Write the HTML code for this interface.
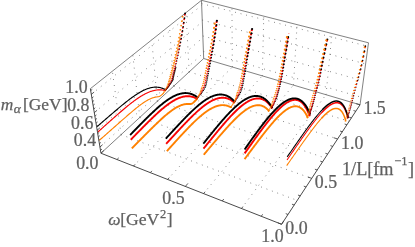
<!DOCTYPE html>
<html><head><meta charset="utf-8"><style>
html,body{margin:0;padding:0;background:#fff;}
svg{display:block;font-family:"Liberation Serif",serif;fill:#606060;will-change:transform;}
text{stroke:#606060;stroke-width:0.25px;}
</style></head><body>
<svg width="415" height="247" viewBox="0 0 415 247">
<rect width="415" height="247" fill="#fff"/>
<line x1="133.43" y1="166.00" x2="232.37" y2="67.01" stroke="#606060" stroke-width="0.85" stroke-dasharray="0.85 4.9" fill="none"/>
<line x1="167.59" y1="179.44" x2="262.27" y2="75.86" stroke="#606060" stroke-width="0.85" stroke-dasharray="0.85 4.9" fill="none"/>
<line x1="203.56" y1="193.59" x2="293.45" y2="85.09" stroke="#606060" stroke-width="0.85" stroke-dasharray="0.85 4.9" fill="none"/>
<line x1="241.50" y1="208.51" x2="326.02" y2="94.72" stroke="#606060" stroke-width="0.85" stroke-dasharray="0.85 4.9" fill="none"/>
<line x1="121.06" y1="134.69" x2="297.24" y2="200.41" stroke="#606060" stroke-width="0.85" stroke-dasharray="0.85 4.9" fill="none"/>
<line x1="139.82" y1="117.40" x2="311.71" y2="178.38" stroke="#606060" stroke-width="0.85" stroke-dasharray="0.85 4.9" fill="none"/>
<line x1="157.34" y1="101.24" x2="325.13" y2="157.96" stroke="#606060" stroke-width="0.85" stroke-dasharray="0.85 4.9" fill="none"/>
<line x1="173.77" y1="86.10" x2="337.59" y2="138.98" stroke="#606060" stroke-width="0.85" stroke-dasharray="0.85 4.9" fill="none"/>
<line x1="189.18" y1="71.89" x2="349.20" y2="121.30" stroke="#606060" stroke-width="0.85" stroke-dasharray="0.85 4.9" fill="none"/>
<line x1="232.37" y1="67.01" x2="231.95" y2="8.05" stroke="#606060" stroke-width="0.85" stroke-dasharray="0.85 4.9" fill="none"/>
<line x1="262.27" y1="75.86" x2="263.79" y2="16.15" stroke="#606060" stroke-width="0.85" stroke-dasharray="0.85 4.9" fill="none"/>
<line x1="293.45" y1="85.09" x2="297.08" y2="24.62" stroke="#606060" stroke-width="0.85" stroke-dasharray="0.85 4.9" fill="none"/>
<line x1="326.02" y1="94.72" x2="331.95" y2="33.49" stroke="#606060" stroke-width="0.85" stroke-dasharray="0.85 4.9" fill="none"/>
<line x1="203.41" y1="51.34" x2="361.08" y2="97.20" stroke="#606060" stroke-width="0.85" stroke-dasharray="0.85 4.9" fill="none"/>
<line x1="202.83" y1="35.95" x2="363.30" y2="80.87" stroke="#606060" stroke-width="0.85" stroke-dasharray="0.85 4.9" fill="none"/>
<line x1="202.23" y1="20.06" x2="365.61" y2="63.93" stroke="#606060" stroke-width="0.85" stroke-dasharray="0.85 4.9" fill="none"/>
<line x1="201.61" y1="3.63" x2="368.01" y2="46.36" stroke="#606060" stroke-width="0.85" stroke-dasharray="0.85 4.9" fill="none"/>
<line x1="121.06" y1="134.69" x2="112.35" y2="71.20" stroke="#606060" stroke-width="0.85" stroke-dasharray="0.85 5.3" fill="none"/>
<line x1="139.82" y1="117.40" x2="132.76" y2="54.97" stroke="#606060" stroke-width="0.85" stroke-dasharray="0.85 5.3" fill="none"/>
<line x1="157.34" y1="101.24" x2="151.74" y2="39.87" stroke="#606060" stroke-width="0.85" stroke-dasharray="0.85 5.3" fill="none"/>
<line x1="173.77" y1="86.10" x2="169.44" y2="25.79" stroke="#606060" stroke-width="0.85" stroke-dasharray="0.85 5.3" fill="none"/>
<line x1="189.18" y1="71.89" x2="185.98" y2="12.63" stroke="#606060" stroke-width="0.85" stroke-dasharray="0.85 5.3" fill="none"/>
<line x1="99.95" y1="147.07" x2="203.47" y2="52.89" stroke="#606060" stroke-width="0.85" stroke-dasharray="0.85 5.3" fill="none"/>
<line x1="97.18" y1="130.20" x2="202.89" y2="37.56" stroke="#606060" stroke-width="0.85" stroke-dasharray="0.85 5.3" fill="none"/>
<line x1="94.29" y1="112.64" x2="202.29" y2="21.72" stroke="#606060" stroke-width="0.85" stroke-dasharray="0.85 5.3" fill="none"/>
<line x1="91.29" y1="94.36" x2="201.68" y2="5.34" stroke="#606060" stroke-width="0.85" stroke-dasharray="0.85 5.3" fill="none"/>
<line x1="100.96" y1="153.23" x2="203.68" y2="58.52" stroke="#585858" stroke-width="0.75"/>
<line x1="203.68" y1="58.52" x2="360.04" y2="104.79" stroke="#585858" stroke-width="0.75"/>
<line x1="203.68" y1="58.52" x2="201.49" y2="0.30" stroke="#585858" stroke-width="0.75"/>
<line x1="360.04" y1="104.79" x2="368.49" y2="42.79" stroke="#585858" stroke-width="0.75"/>
<line x1="90.36" y1="88.69" x2="201.49" y2="0.30" stroke="#585858" stroke-width="0.75"/>
<line x1="201.49" y1="0.30" x2="368.49" y2="42.79" stroke="#585858" stroke-width="0.75"/>
<line x1="100.96" y1="153.23" x2="90.36" y2="88.69" stroke="#4a4a4a" stroke-width="1.0"/>
<line x1="100.96" y1="153.23" x2="281.57" y2="224.27" stroke="#4a4a4a" stroke-width="1.0"/>
<line x1="281.57" y1="224.27" x2="360.04" y2="104.79" stroke="#4a4a4a" stroke-width="1.0"/>
<line x1="100.96" y1="153.23" x2="103.90" y2="150.52" stroke="#3c3c3c" stroke-width="0.85"/>
<line x1="116.99" y1="159.54" x2="118.72" y2="157.88" stroke="#3c3c3c" stroke-width="0.85"/>
<line x1="133.43" y1="166.00" x2="135.13" y2="164.31" stroke="#3c3c3c" stroke-width="0.85"/>
<line x1="150.29" y1="172.63" x2="151.95" y2="170.90" stroke="#3c3c3c" stroke-width="0.85"/>
<line x1="167.59" y1="179.44" x2="169.21" y2="177.67" stroke="#3c3c3c" stroke-width="0.85"/>
<line x1="185.34" y1="186.42" x2="187.96" y2="183.40" stroke="#3c3c3c" stroke-width="0.85"/>
<line x1="203.56" y1="193.59" x2="205.09" y2="191.74" stroke="#3c3c3c" stroke-width="0.85"/>
<line x1="222.27" y1="200.95" x2="223.76" y2="199.06" stroke="#3c3c3c" stroke-width="0.85"/>
<line x1="241.50" y1="208.51" x2="242.93" y2="206.58" stroke="#3c3c3c" stroke-width="0.85"/>
<line x1="261.26" y1="216.28" x2="262.63" y2="214.31" stroke="#3c3c3c" stroke-width="0.85"/>
<line x1="281.57" y1="224.27" x2="283.77" y2="220.92" stroke="#3c3c3c" stroke-width="0.85"/>
<line x1="281.57" y1="224.27" x2="277.85" y2="222.80" stroke="#3c3c3c" stroke-width="0.85"/>
<line x1="287.99" y1="214.49" x2="285.75" y2="213.63" stroke="#3c3c3c" stroke-width="0.85"/>
<line x1="294.21" y1="205.03" x2="291.96" y2="204.18" stroke="#3c3c3c" stroke-width="0.85"/>
<line x1="300.23" y1="195.87" x2="297.97" y2="195.04" stroke="#3c3c3c" stroke-width="0.85"/>
<line x1="306.06" y1="186.99" x2="303.80" y2="186.17" stroke="#3c3c3c" stroke-width="0.85"/>
<line x1="311.71" y1="178.38" x2="307.94" y2="177.04" stroke="#3c3c3c" stroke-width="0.85"/>
<line x1="317.20" y1="170.02" x2="314.93" y2="169.23" stroke="#3c3c3c" stroke-width="0.85"/>
<line x1="322.52" y1="161.92" x2="320.25" y2="161.14" stroke="#3c3c3c" stroke-width="0.85"/>
<line x1="327.69" y1="154.05" x2="325.42" y2="153.29" stroke="#3c3c3c" stroke-width="0.85"/>
<line x1="332.71" y1="146.41" x2="330.43" y2="145.66" stroke="#3c3c3c" stroke-width="0.85"/>
<line x1="337.59" y1="138.98" x2="333.78" y2="137.75" stroke="#3c3c3c" stroke-width="0.85"/>
<line x1="342.33" y1="131.76" x2="340.04" y2="131.04" stroke="#3c3c3c" stroke-width="0.85"/>
<line x1="346.94" y1="124.74" x2="344.65" y2="124.03" stroke="#3c3c3c" stroke-width="0.85"/>
<line x1="351.43" y1="117.91" x2="349.13" y2="117.21" stroke="#3c3c3c" stroke-width="0.85"/>
<line x1="355.79" y1="111.27" x2="353.50" y2="110.57" stroke="#3c3c3c" stroke-width="0.85"/>
<line x1="360.04" y1="104.79" x2="356.21" y2="103.66" stroke="#3c3c3c" stroke-width="0.85"/>
<line x1="100.49" y1="150.37" x2="101.96" y2="149.02" stroke="#3c3c3c" stroke-width="0.85"/>
<line x1="99.95" y1="147.07" x2="102.61" y2="144.65" stroke="#3c3c3c" stroke-width="0.85"/>
<line x1="99.40" y1="143.75" x2="100.89" y2="142.41" stroke="#3c3c3c" stroke-width="0.85"/>
<line x1="98.85" y1="140.40" x2="100.34" y2="139.07" stroke="#3c3c3c" stroke-width="0.85"/>
<line x1="98.30" y1="137.03" x2="99.79" y2="135.70" stroke="#3c3c3c" stroke-width="0.85"/>
<line x1="97.74" y1="133.63" x2="99.24" y2="132.31" stroke="#3c3c3c" stroke-width="0.85"/>
<line x1="97.18" y1="130.20" x2="99.88" y2="127.83" stroke="#3c3c3c" stroke-width="0.85"/>
<line x1="96.61" y1="126.75" x2="98.12" y2="125.43" stroke="#3c3c3c" stroke-width="0.85"/>
<line x1="96.04" y1="123.26" x2="97.55" y2="121.96" stroke="#3c3c3c" stroke-width="0.85"/>
<line x1="95.46" y1="119.75" x2="96.98" y2="118.45" stroke="#3c3c3c" stroke-width="0.85"/>
<line x1="94.88" y1="116.21" x2="96.41" y2="114.92" stroke="#3c3c3c" stroke-width="0.85"/>
<line x1="94.29" y1="112.64" x2="97.05" y2="110.32" stroke="#3c3c3c" stroke-width="0.85"/>
<line x1="93.70" y1="109.05" x2="95.24" y2="107.76" stroke="#3c3c3c" stroke-width="0.85"/>
<line x1="93.11" y1="105.42" x2="94.65" y2="104.14" stroke="#3c3c3c" stroke-width="0.85"/>
<line x1="92.51" y1="101.76" x2="94.05" y2="100.49" stroke="#3c3c3c" stroke-width="0.85"/>
<line x1="91.90" y1="98.07" x2="93.45" y2="96.81" stroke="#3c3c3c" stroke-width="0.85"/>
<line x1="91.29" y1="94.36" x2="94.10" y2="92.10" stroke="#3c3c3c" stroke-width="0.85"/>
<line x1="90.68" y1="90.61" x2="92.24" y2="89.36" stroke="#3c3c3c" stroke-width="0.85"/>
<g transform="translate(0.7,0.3)">
<path d="M98.78,139.94 L99.41,139.38 L100.05,138.81 L100.69,138.25 L101.32,137.69 L101.95,137.13 L102.59,136.57 L103.22,136.01 L103.85,135.45 L104.47,134.90 L105.10,134.35 L105.72,133.79 L106.35,133.24 L106.97,132.69 L107.59,132.14 L108.21,131.59 L108.83,131.05 L109.44,130.50 L110.06,129.96 L110.67,129.41 L111.28,128.87 L111.90,128.33 L112.51,127.79 L113.11,127.25 L113.72,126.72 L114.33,126.18 L114.93,125.65 L115.54,125.11 L116.14,124.58 L116.74,124.05 L117.34,123.52 L117.94,122.99 L118.53,122.47 L119.13,121.94 L119.72,121.42 L120.32,120.89 L120.91,120.37 L121.50,119.85 L122.09,119.34 L122.68,118.82 L123.27,118.30 L123.85,117.79 L124.44,117.28 L125.02,116.77 L125.60,116.26 L126.19,115.76 L126.77,115.25 L127.35,114.75 L127.92,114.25 L128.50,113.76 L129.08,113.26 L129.65,112.77 L130.23,112.28 L130.80,111.79 L131.37,111.31 L131.94,110.83 L132.51,110.35 L133.08,109.88 L133.65,109.40 L134.22,108.94 L134.78,108.47 L135.35,108.01 L135.91,107.56 L136.48,107.11 L137.04,106.66 L137.60,106.22 L138.16,105.79 L138.72,105.36 L139.28,104.93 L139.84,104.51 L140.40,104.10 L140.96,103.69 L141.52,103.30 L142.08,102.90 L142.63,102.52 L143.19,102.14 L143.74,101.78 L144.30,101.42 L144.85,101.07 L145.41,100.73 L145.96,100.40 L146.51,100.08 L147.07,99.77 L147.62,99.47 L148.17,99.18 L148.73,98.91 L149.28,98.65 L149.83,98.40 L150.38,98.17 L150.94,97.95 L151.49,97.74 L152.04,97.55 L152.59,97.38 L153.15,97.22 L153.70,97.08 L154.25,96.96 L154.80,96.85 L155.35,96.75 L155.91,96.66 L156.46,96.58 L157.00,96.50 L157.55,96.40 L158.09,96.27 L158.63,96.10 L159.15,95.86 L159.68,95.55 L160.19,95.20 L160.70,94.80 L161.21,94.37 L161.71,93.93 L162.22,93.48 L162.72,93.03 L163.05,92.72" fill="none" stroke="#ff8000" stroke-width="1.15" stroke-linejoin="round" stroke-linecap="butt"/>
<path d="M163.03,92.72 L164.17,91.24 L165.31,89.75 L166.10,88.26 L166.75,86.78 L167.34,85.29 L167.91,83.81 L168.45,82.32 L168.84,80.84 L169.29,79.35 L169.73,77.86 L170.09,76.38 L170.44,74.89 L170.82,73.41 L171.22,71.92 L171.63,70.44 L172.03,68.95 L172.42,67.46 L172.81,65.98 L173.19,64.49 L173.57,63.01 L173.94,61.52 L174.31,60.04 L174.67,58.55 L175.03,57.07 L175.37,55.58 L175.71,54.09 L176.04,52.61 L176.38,51.12 L176.70,49.64 L177.03,48.15 L177.35,46.67 L177.66,45.18 L177.97,43.69 L178.28,42.21 L178.57,40.72 L178.87,39.24 L179.15,37.75 L179.44,36.27 L179.72,34.78" fill="none" stroke="#ff8000" stroke-width="0.9"/>
<path d="M131.14,148.05 L131.76,147.42 L132.37,146.80 L132.99,146.18 L133.60,145.56 L134.22,144.94 L134.83,144.32 L135.44,143.71 L136.04,143.09 L136.65,142.48 L137.26,141.87 L137.86,141.26 L138.46,140.65 L139.06,140.04 L139.66,139.44 L140.26,138.83 L140.86,138.23 L141.46,137.63 L142.05,137.03 L142.65,136.43 L143.24,135.84 L143.83,135.24 L144.42,134.65 L145.01,134.06 L145.60,133.47 L146.18,132.88 L146.77,132.29 L147.35,131.71 L147.93,131.13 L148.52,130.55 L149.10,129.97 L149.68,129.39 L150.25,128.82 L150.83,128.25 L151.41,127.68 L151.98,127.11 L152.56,126.55 L153.13,125.99 L153.70,125.43 L154.27,124.88 L154.84,124.33 L155.41,123.78 L155.97,123.23 L156.54,122.69 L157.11,122.15 L157.67,121.61 L158.23,121.08 L158.80,120.56 L159.36,120.03 L159.92,119.51 L160.48,119.00 L161.04,118.49 L161.59,117.98 L162.15,117.48 L162.71,116.99 L163.26,116.50 L163.81,116.01 L164.37,115.53 L164.92,115.06 L165.47,114.59 L166.02,114.13 L166.57,113.67 L167.12,113.22 L167.67,112.78 L168.22,112.35 L168.76,111.92 L169.31,111.50 L169.85,111.09 L170.40,110.68 L170.94,110.28 L171.49,109.90 L172.03,109.52 L172.57,109.15 L173.11,108.79 L173.65,108.44 L174.19,108.09 L174.73,107.76 L175.27,107.44 L175.81,107.13 L176.34,106.83 L176.88,106.55 L177.41,106.27 L177.95,106.01 L178.48,105.75 L179.02,105.52 L179.55,105.29 L180.08,105.08 L180.62,104.88 L181.15,104.69 L181.68,104.52 L182.21,104.36 L182.74,104.22 L183.27,104.10 L183.80,103.99 L184.32,103.89 L184.85,103.81 L185.38,103.75 L185.91,103.71 L186.43,103.68 L186.96,103.67 L187.48,103.67 L188.00,103.68 L188.53,103.70 L189.05,103.71 L189.56,103.71 L190.08,103.67 L190.59,103.57 L191.09,103.37 L191.59,103.09 L192.08,102.73 L192.56,102.32 L193.05,101.88 L193.53,101.42 L194.01,100.95 L194.49,100.48 L194.97,100.01 L195.45,99.53 L195.93,99.06 L196.40,98.59 L196.88,98.12 L197.04,97.96" fill="none" stroke="#ff8000" stroke-width="1.90" stroke-linejoin="round" stroke-linecap="butt"/>
<path d="M166.14,150.88 L166.73,150.22 L167.32,149.56 L167.91,148.91 L168.50,148.25 L169.09,147.60 L169.68,146.95 L170.26,146.30 L170.85,145.65 L171.43,145.01 L172.01,144.36 L172.59,143.72 L173.17,143.08 L173.75,142.44 L174.33,141.80 L174.91,141.17 L175.48,140.54 L176.05,139.91 L176.63,139.28 L177.20,138.65 L177.77,138.03 L178.33,137.41 L178.90,136.79 L179.47,136.17 L180.03,135.56 L180.60,134.95 L181.16,134.34 L181.72,133.73 L182.28,133.13 L182.84,132.53 L183.40,131.94 L183.96,131.34 L184.51,130.75 L185.07,130.17 L185.62,129.59 L186.17,129.01 L186.72,128.43 L187.28,127.86 L187.82,127.29 L188.37,126.73 L188.92,126.17 L189.47,125.61 L190.01,125.06 L190.56,124.51 L191.10,123.97 L191.64,123.43 L192.18,122.90 L192.72,122.37 L193.26,121.85 L193.80,121.33 L194.33,120.82 L194.87,120.31 L195.41,119.81 L195.94,119.31 L196.47,118.82 L197.00,118.34 L197.53,117.86 L198.06,117.39 L198.59,116.92 L199.12,116.46 L199.65,116.01 L200.17,115.56 L200.70,115.12 L201.22,114.69 L201.74,114.26 L202.27,113.84 L202.79,113.43 L203.31,113.03 L203.82,112.63 L204.34,112.25 L204.86,111.87 L205.37,111.49 L205.89,111.13 L206.40,110.78 L206.91,110.43 L207.43,110.09 L207.94,109.76 L208.45,109.44 L208.95,109.13 L209.46,108.83 L209.97,108.54 L210.47,108.26 L210.98,107.99 L211.48,107.72 L211.98,107.47 L212.48,107.23 L212.98,107.00 L213.48,106.78 L213.98,106.57 L214.48,106.37 L214.97,106.19 L215.47,106.01 L215.96,105.85 L216.45,105.69 L216.94,105.55 L217.43,105.42 L217.92,105.31 L218.41,105.20 L218.89,105.11 L219.38,105.03 L219.86,104.97 L220.35,104.91 L220.83,104.87 L221.31,104.85 L221.79,104.83 L222.27,104.83 L222.74,104.85 L223.22,104.88 L223.69,104.92 L224.16,104.98 L224.64,105.05 L225.11,105.13 L225.57,105.23 L226.04,105.35 L226.51,105.48 L226.97,105.62 L227.44,105.78 L227.90,105.96 L228.36,106.14 L228.82,106.33 L229.27,106.52 L229.73,106.69 L230.18,106.80 L230.63,106.83 L231.08,106.71 L231.08,106.71" fill="none" stroke="#ff8000" stroke-width="1.90" stroke-linejoin="round" stroke-linecap="butt"/>
<path d="M203.05,154.44 L203.62,153.76 L204.20,153.08 L204.77,152.40 L205.34,151.72 L205.90,151.05 L206.47,150.38 L207.03,149.71 L207.60,149.04 L208.16,148.37 L208.72,147.70 L209.28,147.04 L209.84,146.38 L210.40,145.72 L210.95,145.06 L211.51,144.40 L212.06,143.75 L212.62,143.10 L213.17,142.44 L213.72,141.80 L214.27,141.15 L214.81,140.51 L215.36,139.86 L215.90,139.22 L216.45,138.59 L216.99,137.95 L217.53,137.32 L218.07,136.69 L218.61,136.06 L219.15,135.44 L219.68,134.82 L220.22,134.20 L220.75,133.59 L221.29,132.97 L221.82,132.36 L222.35,131.76 L222.88,131.16 L223.41,130.56 L223.93,129.96 L224.46,129.37 L224.98,128.78 L225.51,128.20 L226.03,127.61 L226.55,127.04 L227.07,126.47 L227.59,125.90 L228.11,125.33 L228.62,124.77 L229.14,124.22 L229.65,123.67 L230.16,123.12 L230.68,122.58 L231.19,122.05 L231.70,121.52 L232.20,120.99 L232.71,120.47 L233.22,119.96 L233.72,119.45 L234.22,118.95 L234.73,118.45 L235.23,117.96 L235.73,117.48 L236.23,117.00 L236.72,116.53 L237.22,116.07 L237.71,115.61 L238.21,115.16 L238.70,114.72 L239.19,114.28 L239.68,113.85 L240.17,113.43 L240.66,113.02 L241.15,112.62 L241.63,112.22 L242.11,111.83 L242.60,111.45 L243.08,111.08 L243.56,110.72 L244.04,110.37 L244.51,110.03 L244.99,109.69 L245.46,109.37 L245.94,109.05 L246.41,108.75 L246.88,108.45 L247.35,108.17 L247.82,107.89 L248.28,107.63 L248.75,107.38 L249.21,107.14 L249.67,106.91 L250.14,106.69 L250.59,106.48 L251.05,106.28 L251.51,106.10 L251.96,105.93 L252.42,105.77 L252.87,105.62 L253.32,105.49 L253.77,105.37 L254.21,105.26 L254.66,105.16 L255.10,105.08 L255.55,105.02 L255.99,104.96 L256.43,104.92 L256.86,104.90 L257.30,104.89 L257.73,104.89 L258.16,104.91 L258.59,104.95 L259.02,105.00 L259.45,105.06 L259.87,105.14 L260.30,105.24 L260.72,105.35 L261.14,105.48 L261.55,105.62 L261.97,105.79 L262.38,105.97 L262.80,106.16 L263.20,106.37 L263.61,106.60 L264.02,106.85 L264.42,107.12 L264.82,107.40 L265.22,107.70 L265.62,108.02 L266.01,108.36 L266.41,108.72 L266.80,109.10 L267.19,109.49 L267.57,109.91 L267.96,110.34 L268.34,110.79 L268.59,111.11" fill="none" stroke="#ff8000" stroke-width="1.90" stroke-linejoin="round" stroke-linecap="butt"/>
<path d="M243.86,158.86 L244.40,158.13 L244.94,157.41 L245.48,156.69 L246.01,155.97 L246.55,155.25 L247.08,154.53 L247.61,153.81 L248.14,153.10 L248.67,152.39 L249.20,151.68 L249.73,150.97 L250.25,150.27 L250.78,149.56 L251.30,148.86 L251.82,148.16 L252.34,147.47 L252.86,146.77 L253.38,146.08 L253.90,145.39 L254.42,144.70 L254.93,144.02 L255.44,143.34 L255.96,142.66 L256.47,141.98 L256.98,141.30 L257.49,140.63 L257.99,139.96 L258.50,139.30 L259.00,138.64 L259.51,137.98 L260.01,137.32 L260.51,136.67 L261.01,136.02 L261.51,135.37 L262.01,134.73 L262.51,134.09 L263.00,133.45 L263.50,132.82 L263.99,132.19 L264.48,131.57 L264.97,130.95 L265.46,130.34 L265.95,129.73 L266.43,129.12 L266.92,128.52 L267.40,127.92 L267.89,127.33 L268.37,126.74 L268.85,126.16 L269.33,125.58 L269.81,125.01 L270.28,124.45 L270.76,123.88 L271.23,123.33 L271.71,122.78 L272.18,122.24 L272.65,121.70 L273.12,121.17 L273.58,120.64 L274.05,120.13 L274.51,119.61 L274.98,119.11 L275.44,118.61 L275.90,118.12 L276.36,117.64 L276.82,117.16 L277.27,116.69 L277.73,116.23 L278.18,115.78 L278.63,115.33 L279.08,114.89 L279.53,114.46 L279.98,114.04 L280.43,113.63 L280.87,113.23 L281.31,112.83 L281.76,112.45 L282.19,112.07 L282.63,111.71 L283.07,111.35 L283.50,111.00 L283.94,110.67 L284.37,110.34 L284.80,110.02 L285.23,109.72 L285.65,109.42 L286.08,109.14 L286.50,108.86 L286.92,108.60 L287.34,108.35 L287.76,108.11 L288.18,107.88 L288.59,107.66 L289.00,107.46 L289.41,107.27 L289.82,107.09 L290.23,106.92 L290.63,106.77 L291.03,106.63 L291.43,106.50 L291.83,106.38 L292.23,106.28 L292.62,106.20 L293.02,106.12 L293.41,106.06 L293.79,106.02 L294.18,105.99 L294.56,105.97 L294.95,105.97 L295.32,105.99 L295.70,106.02 L296.08,106.06 L296.45,106.12 L296.82,106.20 L297.19,106.29 L297.55,106.40 L297.92,106.52 L298.28,106.66 L298.63,106.82 L298.99,107.00 L299.34,107.19 L299.69,107.40 L300.04,107.62 L300.39,107.87 L300.73,108.13 L301.07,108.41 L301.41,108.70 L301.74,109.02 L302.07,109.35 L302.40,109.71 L302.73,110.08 L303.05,110.47 L303.37,110.88 L303.69,111.30 L304.01,111.75 L304.32,112.22 L304.63,112.71 L304.94,113.21 L305.24,113.74 L305.54,114.28 L305.84,114.85 L306.13,115.44 L306.42,116.04 L306.71,116.67 L306.99,117.32 L307.18,117.76" fill="none" stroke="#ff8000" stroke-width="1.90" stroke-linejoin="round" stroke-linecap="butt"/>
<path d="M285.99,165.31 L286.51,164.57 L287.02,163.84 L287.53,163.11 L288.04,162.38 L288.55,161.66 L289.05,160.93 L289.56,160.21 L290.06,159.49 L290.57,158.77 L291.07,158.06 L291.57,157.34 L292.07,156.63 L292.57,155.92 L293.06,155.21 L293.56,154.50 L294.05,153.80 L294.55,153.10 L295.04,152.40 L295.53,151.70 L296.02,151.00 L296.50,150.31 L296.99,149.62 L297.48,148.93 L297.96,148.24 L298.44,147.55 L298.93,146.87 L299.41,146.19 L299.89,145.51 L300.36,144.84 L300.84,144.17 L301.32,143.50 L301.79,142.83 L302.26,142.16 L302.73,141.50 L303.20,140.84 L303.67,140.19 L304.14,139.53 L304.61,138.89 L305.07,138.24 L305.54,137.60 L306.00,136.96 L306.46,136.32 L306.92,135.69 L307.38,135.06 L307.84,134.43 L308.29,133.81 L308.75,133.19 L309.20,132.58 L309.65,131.97 L310.10,131.37 L310.55,130.77 L311.00,130.17 L311.45,129.58 L311.89,128.99 L312.34,128.41 L312.78,127.83 L313.22,127.26 L313.66,126.69 L314.10,126.13 L314.53,125.57 L314.97,125.02 L315.40,124.48 L315.83,123.94 L316.26,123.40 L316.69,122.87 L317.12,122.35 L317.55,121.84 L317.97,121.33 L318.39,120.83 L318.81,120.33 L319.23,119.85 L319.65,119.37 L320.07,118.89 L320.48,118.43 L320.90,117.97 L321.31,117.52" fill="none" stroke="#ff8000" stroke-width="1.05" stroke-linejoin="round"/>
<path d="M320.90,117.97 L321.31,117.52 L321.72,117.08 L322.12,116.64 L322.53,116.22 L322.93,115.80 L323.33,115.39 L323.73,114.99 L324.13,114.60 L324.53,114.22 L324.92,113.85 L325.32,113.49 L325.71,113.14 L326.10,112.80 L326.48,112.47 L326.87,112.14 L327.25,111.83 L327.63,111.53 L328.01,111.25 L328.38,110.97 L328.76,110.70 L329.13,110.45 L329.50,110.21 L329.86,109.98 L330.23,109.76 L330.59,109.55 L330.95,109.36 L331.31,109.18 L331.66,109.01 L332.02,108.86 L332.37,108.72 L332.71,108.60 L333.06,108.49 L333.40,108.39 L333.74,108.31 L334.08,108.24 L334.41,108.18 L334.74,108.15 L335.07,108.12 L335.40,108.12 L335.72,108.13 L336.04,108.15 L336.36,108.19 L336.67,108.25 L336.98,108.32 L337.29,108.42 L337.60,108.52 L337.90,108.65 L338.20,108.79 L338.49,108.96 L338.78,109.14 L339.07,109.33 L339.36,109.55 L339.64,109.79 L339.92,110.04 L340.20,110.31 L340.47,110.61 L340.74,110.92 L341.00,111.25 L341.26,111.60 L341.52,111.98 L341.78,112.37 L342.03,112.78 L342.27,113.22 L342.52,113.68 L342.76,114.15 L342.99,114.65 L343.22,115.17 L343.45,115.71 L343.68,116.28 L343.89,116.86 L344.11,117.47 L344.32,118.10 L344.53,118.76 L344.73,119.44 L344.93,120.14 L345.13,120.86 L345.19,121.11" fill="none" stroke="#ff8000" stroke-width="1.5" stroke-linejoin="round"/>
<path d="M97.39,131.51 L98.04,130.94 L98.68,130.36 L99.32,129.79 L99.96,129.22 L100.60,128.65 L101.24,128.08 L101.87,127.51 L102.51,126.94 L103.14,126.37 L103.77,125.81 L104.40,125.25 L105.03,124.68 L105.66,124.12 L106.28,123.57 L106.91,123.01 L107.53,122.45 L108.15,121.90 L108.77,121.34 L109.39,120.79 L110.01,120.24 L110.63,119.69 L111.24,119.15 L111.86,118.60 L112.47,118.06 L113.08,117.52 L113.69,116.98 L114.30,116.44 L114.91,115.91 L115.52,115.37 L116.13,114.84 L116.73,114.31 L117.33,113.79 L117.94,113.26 L118.54,112.74 L119.14,112.22 L119.74,111.70 L120.34,111.19 L120.93,110.68 L121.53,110.17 L122.12,109.66 L122.72,109.16 L123.31,108.66 L123.90,108.17 L124.49,107.67 L125.08,107.18 L125.67,106.70 L126.26,106.22 L126.85,105.74 L127.43,105.26 L128.02,104.79 L128.60,104.32 L129.19,103.86 L129.77,103.40 L130.35,102.95 L130.93,102.50 L131.51,102.06 L132.09,101.62 L132.67,101.18 L133.25,100.76 L133.82,100.33 L134.40,99.91 L134.98,99.50 L135.55,99.09 L136.12,98.69 L136.70,98.30 L137.27,97.91 L137.84,97.53 L138.41,97.15 L138.98,96.78 L139.55,96.42 L140.12,96.06 L140.69,95.72 L141.26,95.38 L141.82,95.04 L142.39,94.72 L142.96,94.40 L143.52,94.09 L144.09,93.79 L144.65,93.50 L145.21,93.21 L145.78,92.94 L146.34,92.67 L146.90,92.42 L147.46,92.17 L148.02,91.93 L148.58,91.71 L149.14,91.49 L149.70,91.28 L150.26,91.08 L150.82,90.90 L151.38,90.72 L151.94,90.56 L152.49,90.41 L153.05,90.27 L153.61,90.14 L154.16,90.02 L154.72,89.91 L155.27,89.82 L155.83,89.74 L156.38,89.67 L156.93,89.62 L157.49,89.58 L158.04,89.55 L158.59,89.54 L159.14,89.54 L159.70,89.55 L160.25,89.58 L160.80,89.62 L161.35,89.68 L161.90,89.75 L162.45,89.84 L163.00,89.95 L163.55,90.07 L164.09,90.20 L164.64,90.35 L164.82,90.41" fill="none" stroke="#f80404" stroke-width="1.15" stroke-linejoin="round" stroke-linecap="butt"/>
<path d="M164.80,90.41 L165.27,89.80 L165.74,89.19 L166.19,88.58 L166.64,87.98 L167.08,87.37 L167.50,86.76 L167.91,86.15 L168.31,85.54 L168.69,84.94 L169.08,84.33 L169.47,83.72 L169.86,83.11 L170.24,82.51 L170.58,81.90 L170.90,81.29 L171.17,80.68 L171.41,80.07 L171.62,79.47 L171.81,78.86 L171.98,78.25 L172.13,77.64 L172.27,77.03 L172.41,76.43 L172.54,75.82 L172.68,75.21 L172.81,74.60 L172.96,73.99 L173.12,73.39 L173.27,72.78 L173.43,72.17 L173.59,71.56 L173.74,70.96 L173.90,70.35 L174.05,69.74 L174.21,69.13 L174.36,68.52 L174.52,67.92 L174.67,67.31 L174.82,66.70" fill="none" stroke="#f80404" stroke-width="0.9"/>
<path d="M130.04,139.41 L130.66,138.78 L131.29,138.14 L131.91,137.51 L132.53,136.88 L133.14,136.25 L133.76,135.62 L134.37,134.99 L134.99,134.36 L135.60,133.74 L136.21,133.11 L136.82,132.49 L137.43,131.87 L138.04,131.25 L138.64,130.64 L139.25,130.02 L139.85,129.41 L140.45,128.80 L141.05,128.19 L141.65,127.58 L142.25,126.98 L142.85,126.37 L143.44,125.77 L144.04,125.18 L144.63,124.58 L145.22,123.99 L145.82,123.40 L146.41,122.81 L147.00,122.22 L147.58,121.64 L148.17,121.06 L148.76,120.48 L149.34,119.91 L149.92,119.34 L150.51,118.77 L151.09,118.21 L151.67,117.65 L152.25,117.09 L152.83,116.54 L153.40,115.99 L153.98,115.45 L154.56,114.91 L155.13,114.37 L155.70,113.84 L156.28,113.31 L156.85,112.79 L157.42,112.27 L157.99,111.76 L158.56,111.25 L159.13,110.75 L159.69,110.25 L160.26,109.76 L160.82,109.27 L161.39,108.79 L161.95,108.31 L162.51,107.85 L163.08,107.38 L163.64,106.93 L164.20,106.48 L164.76,106.03 L165.32,105.60 L165.87,105.17 L166.43,104.75 L166.99,104.33 L167.54,103.93 L168.10,103.53 L168.65,103.13 L169.20,102.75 L169.75,102.38 L170.31,102.01 L170.86,101.65 L171.41,101.30 L171.96,100.96 L172.50,100.63 L173.05,100.31 L173.60,100.00 L174.14,99.70 L174.69,99.40 L175.23,99.12 L175.78,98.85 L176.32,98.59 L176.86,98.34 L177.41,98.10 L177.95,97.87 L178.49,97.65 L179.03,97.45 L179.57,97.25 L180.10,97.07 L180.64,96.90 L181.18,96.75 L181.71,96.60 L182.25,96.47 L182.78,96.35 L183.32,96.25 L183.85,96.15 L184.38,96.08 L184.91,96.01 L185.44,95.96 L185.97,95.93 L186.50,95.90 L187.03,95.90 L187.56,95.91 L188.09,95.93 L188.61,95.97 L189.14,96.02 L189.66,96.09 L190.18,96.18 L190.71,96.28 L191.23,96.40 L191.75,96.54 L192.27,96.69 L192.79,96.86 L193.31,97.05 L193.83,97.25 L194.34,97.47 L194.86,97.71 L195.37,97.97 L195.89,98.25 L196.40,98.54 L196.57,98.65" fill="none" stroke="#f80404" stroke-width="1.90" stroke-linejoin="round" stroke-linecap="butt"/>
<path d="M165.50,143.49 L166.10,142.83 L166.70,142.18 L167.29,141.53 L167.89,140.88 L168.48,140.23 L169.08,139.59 L169.67,138.94 L170.26,138.30 L170.85,137.66 L171.44,137.02 L172.02,136.38 L172.61,135.74 L173.19,135.11 L173.77,134.48 L174.36,133.85 L174.94,133.22 L175.51,132.59 L176.09,131.97 L176.67,131.35 L177.24,130.73 L177.82,130.11 L178.39,129.49 L178.96,128.88 L179.53,128.27 L180.10,127.66 L180.67,127.06 L181.24,126.46 L181.80,125.86 L182.37,125.26 L182.93,124.67 L183.49,124.08 L184.05,123.49 L184.61,122.91 L185.17,122.33 L185.73,121.75 L186.29,121.17 L186.84,120.60 L187.40,120.04 L187.95,119.48 L188.50,118.92 L189.05,118.36 L189.60,117.81 L190.15,117.27 L190.70,116.72 L191.25,116.19 L191.79,115.65 L192.34,115.13 L192.88,114.60 L193.42,114.09 L193.96,113.57 L194.51,113.07 L195.04,112.56 L195.58,112.07 L196.12,111.57 L196.66,111.09 L197.19,110.61 L197.73,110.14 L198.26,109.67 L198.79,109.21 L199.32,108.75 L199.85,108.30 L200.38,107.86 L200.91,107.43 L201.44,107.00 L201.96,106.58 L202.49,106.17 L203.01,105.76 L203.53,105.36 L204.06,104.97 L204.58,104.59 L205.10,104.22 L205.62,103.85 L206.13,103.49 L206.65,103.14 L207.17,102.80 L207.68,102.47 L208.19,102.15 L208.71,101.84 L209.22,101.53 L209.73,101.24 L210.24,100.95 L210.75,100.68 L211.25,100.41 L211.76,100.16 L212.26,99.91 L212.77,99.68 L213.27,99.45 L213.77,99.24 L214.27,99.04 L214.77,98.85 L215.27,98.67 L215.77,98.50 L216.27,98.35 L216.76,98.21 L217.25,98.07 L217.75,97.95 L218.24,97.85 L218.73,97.75 L219.22,97.67 L219.71,97.60 L220.19,97.55 L220.68,97.50 L221.16,97.48 L221.65,97.46 L222.13,97.46 L222.61,97.47 L223.09,97.50 L223.57,97.54 L224.04,97.59 L224.52,97.67 L224.99,97.75 L225.46,97.85 L225.93,97.97 L226.40,98.10 L226.87,98.24 L227.34,98.40 L227.81,98.58 L228.27,98.78 L228.73,98.99 L229.19,99.21 L229.65,99.45 L230.11,99.71 L230.57,99.99 L231.02,100.28 L231.48,100.59 L231.93,100.92 L232.38,101.27 L232.83,101.63 L233.28,102.01 L233.72,102.41 L234.02,102.68" fill="none" stroke="#f80404" stroke-width="1.90" stroke-linejoin="round" stroke-linecap="butt"/>
<path d="M202.79,148.38 L203.37,147.66 L203.94,146.95 L204.52,146.24 L205.09,145.53 L205.66,144.82 L206.23,144.12 L206.80,143.41 L207.36,142.71 L207.93,142.01 L208.49,141.31 L209.06,140.62 L209.62,139.92 L210.18,139.23 L210.74,138.54 L211.30,137.86 L211.86,137.17 L212.41,136.49 L212.97,135.81 L213.52,135.13 L214.07,134.46 L214.62,133.79 L215.17,133.12 L215.72,132.45 L216.27,131.79 L216.82,131.13 L217.36,130.47 L217.90,129.82 L218.45,129.17 L218.99,128.52 L219.53,127.87 L220.07,127.23 L220.61,126.60 L221.14,125.96 L221.68,125.33 L222.21,124.71 L222.75,124.09 L223.28,123.47 L223.81,122.86 L224.34,122.25 L224.87,121.65 L225.40,121.05 L225.92,120.45 L226.45,119.86 L226.97,119.28 L227.49,118.70 L228.02,118.12 L228.54,117.55 L229.06,116.99 L229.57,116.43 L230.09,115.88 L230.61,115.33 L231.12,114.79 L231.64,114.25 L232.15,113.72 L232.66,113.20 L233.17,112.68 L233.68,112.17 L234.19,111.67 L234.69,111.17 L235.20,110.68 L235.70,110.20 L236.20,109.73 L236.71,109.26 L237.21,108.80 L237.70,108.34 L238.20,107.90 L238.70,107.46 L239.19,107.03 L239.69,106.61 L240.18,106.20 L240.67,105.79 L241.16,105.40 L241.65,105.01 L242.14,104.63 L242.63,104.26 L243.11,103.91 L243.60,103.55 L244.08,103.21 L244.56,102.88 L245.04,102.56 L245.52,102.25 L245.99,101.95 L246.47,101.66 L246.94,101.38 L247.42,101.11 L247.89,100.85 L248.36,100.60 L248.83,100.36 L249.29,100.14 L249.76,99.92 L250.22,99.72 L250.69,99.53 L251.15,99.35 L251.61,99.18 L252.07,99.02 L252.52,98.88 L252.98,98.75 L253.43,98.63 L253.88,98.52 L254.33,98.43 L254.78,98.35 L255.23,98.29 L255.67,98.23 L256.12,98.19 L256.56,98.17 L257.00,98.16 L257.44,98.16 L257.87,98.17 L258.31,98.20 L258.74,98.25 L259.17,98.31 L259.60,98.38 L260.03,98.47 L260.46,98.58 L260.88,98.70 L261.30,98.83 L261.72,98.98 L262.14,99.15 L262.56,99.33 L262.97,99.53 L263.39,99.74 L263.80,99.97 L264.21,100.21 L264.61,100.48 L265.02,100.75 L265.42,101.05 L265.82,101.36 L266.22,101.69 L266.61,102.04 L267.01,102.40 L267.40,102.78 L267.79,103.18 L268.18,103.60 L268.56,104.03 L268.95,104.48 L269.33,104.95 L269.71,105.44 L270.08,105.94 L270.46,106.46 L270.83,107.01 L271.20,107.57 L271.56,108.14 L271.56,108.14" fill="none" stroke="#f80404" stroke-width="1.90" stroke-linejoin="round" stroke-linecap="butt"/>
<path d="M243.90,153.09 L244.44,152.32 L244.98,151.56 L245.52,150.80 L246.06,150.04 L246.60,149.29 L247.14,148.53 L247.68,147.78 L248.21,147.03 L248.74,146.28 L249.28,145.53 L249.81,144.79 L250.34,144.05 L250.87,143.31 L251.39,142.57 L251.92,141.84 L252.45,141.11 L252.97,140.38 L253.49,139.65 L254.01,138.93 L254.53,138.21 L255.05,137.49 L255.57,136.78 L256.09,136.07 L256.60,135.36 L257.12,134.66 L257.63,133.96 L258.14,133.26 L258.65,132.56 L259.16,131.87 L259.67,131.19 L260.18,130.51 L260.68,129.83 L261.19,129.15 L261.69,128.48 L262.20,127.82 L262.70,127.16 L263.20,126.50 L263.69,125.85 L264.19,125.20 L264.69,124.56 L265.18,123.92 L265.68,123.28 L266.17,122.66 L266.66,122.03 L267.15,121.42 L267.64,120.81 L268.13,120.20 L268.61,119.60 L269.10,119.01 L269.58,118.42 L270.06,117.84 L270.54,117.26 L271.02,116.69 L271.50,116.13 L271.98,115.57 L272.45,115.03 L272.93,114.48 L273.40,113.95 L273.87,113.42 L274.34,112.90 L274.81,112.39 L275.28,111.88 L275.74,111.39 L276.21,110.90 L276.67,110.42 L277.13,109.94 L277.59,109.48 L278.05,109.02 L278.50,108.58 L278.96,108.14 L279.41,107.71 L279.86,107.29 L280.32,106.88 L280.76,106.48 L281.21,106.08 L281.66,105.70 L282.10,105.33 L282.54,104.97 L282.98,104.62 L283.42,104.27 L283.86,103.94 L284.30,103.62 L284.73,103.31 L285.16,103.02 L285.59,102.73 L286.02,102.45 L286.45,102.19 L286.87,101.94 L287.30,101.70 L287.72,101.47 L288.14,101.25 L288.56,101.05 L288.97,100.85 L289.39,100.68 L289.80,100.51 L290.21,100.36 L290.62,100.22 L291.02,100.09 L291.42,99.97 L291.83,99.87 L292.23,99.79 L292.62,99.72 L293.02,99.66 L293.41,99.61 L293.80,99.58 L294.19,99.57 L294.58,99.57 L294.96,99.58 L295.35,99.61 L295.73,99.66 L296.10,99.72 L296.48,99.79 L296.85,99.88 L297.22,99.99 L297.59,100.11 L297.96,100.25 L298.32,100.41 L298.68,100.58 L299.04,100.77 L299.40,100.97 L299.75,101.19 L300.10,101.43 L300.45,101.68 L300.80,101.96 L301.14,102.25 L301.48,102.55 L301.82,102.88 L302.15,103.22 L302.49,103.58 L302.82,103.96 L303.14,104.35 L303.47,104.77 L303.79,105.20 L304.11,105.65 L304.42,106.12 L304.74,106.61 L305.05,107.12 L305.35,107.64 L305.66,108.19 L305.96,108.75 L306.26,109.34 L306.55,109.94 L306.84,110.56 L307.13,111.20 L307.42,111.86 L307.70,112.54 L307.98,113.24 L308.26,113.96 L308.53,114.70 L308.80,115.46 L308.98,115.98" fill="none" stroke="#f80404" stroke-width="1.90" stroke-linejoin="round" stroke-linecap="butt"/>
<path d="M286.31,159.74 L286.83,158.99 L287.34,158.23 L287.86,157.48 L288.37,156.73 L288.88,155.98 L289.40,155.24 L289.91,154.49 L290.42,153.75 L290.92,153.01 L291.43,152.27 L291.93,151.54 L292.44,150.80 L292.94,150.07 L293.44,149.34 L293.94,148.62 L294.44,147.89 L294.94,147.17 L295.43,146.45 L295.93,145.73 L296.42,145.02 L296.91,144.31 L297.41,143.60 L297.90,142.89 L298.38,142.18 L298.87,141.48 L299.36,140.78 L299.84,140.09 L300.32,139.40 L300.81,138.71 L301.29,138.02 L301.77,137.34 L302.25,136.66 L302.72,135.98 L303.20,135.30 L303.67,134.63 L304.14,133.97 L304.62,133.31 L305.09,132.65 L305.56,131.99 L306.02,131.34 L306.49,130.69 L306.95,130.05 L307.42,129.41 L307.88,128.78 L308.34,128.15 L308.80,127.52 L309.26,126.90 L309.71,126.28 L310.17,125.67 L310.62,125.07 L311.08,124.46 L311.53,123.87 L311.98,123.28 L312.42,122.69 L312.87,122.11 L313.31,121.54 L313.76,120.97 L314.20,120.40 L314.64,119.85 L315.08,119.30 L315.52,118.75 L315.95,118.21 L316.39,117.68 L316.82,117.15 L317.25,116.64 L317.68,116.12 L318.11,115.62 L318.53,115.12 L318.96,114.63 L319.38,114.15 L319.80,113.67 L320.22,113.20 L320.64,112.74 L321.05,112.29 L321.47,111.85 L321.88,111.41" fill="none" stroke="#f80404" stroke-width="1.05" stroke-linejoin="round"/>
<path d="M321.47,111.85 L321.88,111.41 L322.29,110.98 L322.70,110.57 L323.11,110.15 L323.51,109.75 L323.91,109.36 L324.32,108.98 L324.71,108.60 L325.11,108.24 L325.51,107.88 L325.90,107.54 L326.29,107.20 L326.68,106.88 L327.07,106.56 L327.45,106.25 L327.84,105.96 L328.22,105.68 L328.60,105.40 L328.97,105.14 L329.35,104.89 L329.72,104.65 L330.09,104.42 L330.46,104.20 L330.82,104.00 L331.19,103.80 L331.55,103.62 L331.91,103.45 L332.26,103.30 L332.62,103.15 L332.97,103.02 L333.32,102.90 L333.66,102.80 L334.01,102.70 L334.35,102.62 L334.69,102.56 L335.02,102.51 L335.36,102.47 L335.69,102.44 L336.02,102.43 L336.34,102.44 L336.66,102.45 L336.98,102.49 L337.30,102.53 L337.62,102.60 L337.93,102.67 L338.24,102.77 L338.54,102.87 L338.85,103.00 L339.15,103.14 L339.44,103.29 L339.74,103.46 L340.03,103.65 L340.32,103.85 L340.60,104.07 L340.89,104.31 L341.16,104.56 L341.44,104.83 L341.71,105.11 L341.98,105.42 L342.25,105.74 L342.51,106.07 L342.77,106.43 L343.03,106.80 L343.28,107.19 L343.53,107.60 L343.78,108.02 L344.02,108.47 L344.26,108.93 L344.49,109.41 L344.73,109.91 L344.96,110.43 L345.18,110.96 L345.40,111.52 L345.62,112.09 L345.84,112.68 L346.05,113.29 L346.26,113.92 L346.46,114.57 L346.66,115.24 L346.86,115.93 L347.05,116.63 L347.24,117.36 L347.42,118.11 L347.42,118.11" fill="none" stroke="#f80404" stroke-width="1.5" stroke-linejoin="round"/>
<path d="M96.52,126.21 L97.17,125.65 L97.82,125.09 L98.47,124.53 L99.12,123.97 L99.76,123.41 L100.40,122.85 L101.05,122.30 L101.69,121.75 L102.33,121.19 L102.96,120.64 L103.60,120.09 L104.24,119.54 L104.87,119.00 L105.50,118.45 L106.13,117.91 L106.76,117.36 L107.39,116.82 L108.02,116.28 L108.64,115.74 L109.27,115.21 L109.89,114.67 L110.51,114.14 L111.13,113.60 L111.75,113.07 L112.37,112.54 L112.99,112.02 L113.60,111.49 L114.22,110.97 L114.83,110.45 L115.44,109.93 L116.05,109.41 L116.66,108.90 L117.27,108.38 L117.87,107.87 L118.48,107.36 L119.08,106.86 L119.69,106.36 L120.29,105.86 L120.89,105.36 L121.49,104.87 L122.09,104.37 L122.69,103.89 L123.28,103.40 L123.88,102.92 L124.48,102.44 L125.07,101.97 L125.66,101.50 L126.25,101.03 L126.85,100.57 L127.44,100.11 L128.03,99.66 L128.61,99.21 L129.20,98.76 L129.79,98.32 L130.37,97.89 L130.96,97.46 L131.54,97.03 L132.13,96.62 L132.71,96.20 L133.29,95.80 L133.87,95.39 L134.45,95.00 L135.03,94.61 L135.61,94.23 L136.19,93.85 L136.77,93.49 L137.34,93.12 L137.92,92.77 L138.50,92.42 L139.07,92.09 L139.65,91.76 L140.22,91.44 L140.79,91.12 L141.37,90.82 L141.94,90.52 L142.51,90.24 L143.08,89.96 L143.66,89.70 L144.23,89.44 L144.80,89.20 L145.37,88.96 L145.93,88.74 L146.50,88.52 L147.07,88.32 L147.64,88.13 L148.21,87.95 L148.78,87.79 L149.34,87.63 L149.91,87.49 L150.48,87.37 L151.04,87.25 L151.61,87.15 L152.17,87.07 L152.74,86.99 L153.30,86.94 L153.87,86.89 L154.43,86.87 L155.00,86.86 L155.56,86.86 L156.13,86.88 L156.69,86.92 L157.25,86.97 L157.82,87.04 L158.38,87.13 L158.94,87.24 L159.50,87.36 L160.07,87.50 L160.63,87.66 L161.19,87.84 L161.75,88.04 L162.31,88.26 L162.88,88.50 L163.44,88.76 L164.00,89.04 L164.56,89.35 L165.12,89.67 L165.31,89.78" fill="none" stroke="#000" stroke-width="1.15" stroke-linejoin="round" stroke-linecap="butt"/>
<path d="M165.28,89.78 L165.76,89.19 L166.24,88.60 L166.72,88.00 L167.18,87.41 L167.63,86.82 L168.07,86.23 L168.50,85.64 L168.91,85.05 L169.32,84.45 L169.74,83.86 L170.16,83.27 L170.56,82.68 L170.94,82.09 L171.30,81.50 L171.61,80.90 L171.88,80.31 L172.10,79.72 L172.29,79.13 L172.46,78.54 L172.61,77.94 L172.75,77.35 L172.88,76.76 L173.01,76.17 L173.14,75.58 L173.27,74.99 L173.40,74.39 L173.55,73.80 L173.70,73.21 L173.85,72.62 L174.00,72.03 L174.15,71.43 L174.30,70.84 L174.45,70.25 L174.60,69.66 L174.74,69.07 L174.89,68.48 L175.04,67.88 L175.19,67.29 L175.33,66.70" fill="none" stroke="#000" stroke-width="0.9"/>
<path d="M129.44,134.68 L130.06,134.04 L130.69,133.40 L131.31,132.76 L131.93,132.12 L132.56,131.48 L133.17,130.85 L133.79,130.21 L134.41,129.58 L135.02,128.95 L135.64,128.32 L136.25,127.70 L136.86,127.07 L137.47,126.45 L138.08,125.83 L138.69,125.21 L139.30,124.59 L139.90,123.98 L140.51,123.37 L141.11,122.76 L141.71,122.15 L142.31,121.54 L142.91,120.94 L143.51,120.34 L144.11,119.74 L144.70,119.15 L145.30,118.56 L145.89,117.97 L146.48,117.38 L147.08,116.80 L147.67,116.22 L148.26,115.64 L148.84,115.07 L149.43,114.50 L150.02,113.94 L150.60,113.38 L151.19,112.82 L151.77,112.27 L152.35,111.72 L152.93,111.18 L153.52,110.64 L154.09,110.10 L154.67,109.57 L155.25,109.05 L155.83,108.53 L156.40,108.01 L156.98,107.50 L157.55,107.00 L158.13,106.50 L158.70,106.01 L159.27,105.53 L159.84,105.05 L160.41,104.57 L160.98,104.11 L161.55,103.65 L162.11,103.19 L162.68,102.75 L163.25,102.31 L163.81,101.88 L164.37,101.45 L164.94,101.04 L165.50,100.63 L166.06,100.23 L166.62,99.83 L167.18,99.45 L167.74,99.07 L168.30,98.71 L168.86,98.35 L169.42,98.00 L169.97,97.66 L170.53,97.33 L171.08,97.01 L171.64,96.70 L172.19,96.40 L172.74,96.11 L173.29,95.84 L173.85,95.57 L174.40,95.31 L174.95,95.06 L175.49,94.83 L176.04,94.60 L176.59,94.39 L177.14,94.19 L177.68,94.01 L178.23,93.83 L178.77,93.67 L179.32,93.52 L179.86,93.38 L180.40,93.26 L180.95,93.15 L181.49,93.05 L182.03,92.96 L182.57,92.90 L183.11,92.84 L183.64,92.80 L184.18,92.77 L184.72,92.76 L185.25,92.77 L185.79,92.78 L186.32,92.82 L186.86,92.87 L187.39,92.93 L187.92,93.02 L188.45,93.11 L188.98,93.23 L189.51,93.36 L190.04,93.51 L190.57,93.67 L191.09,93.86 L191.62,94.06 L192.15,94.27 L192.67,94.51 L193.19,94.76 L193.71,95.03 L194.24,95.32 L194.76,95.63 L195.28,95.96 L195.79,96.31 L196.31,96.67 L196.83,97.06 L197.34,97.46 L197.51,97.60" fill="none" stroke="#000" stroke-width="1.90" stroke-linejoin="round" stroke-linecap="butt"/>
<path d="M165.06,138.40 L165.66,137.74 L166.26,137.08 L166.86,136.42 L167.46,135.77 L168.06,135.12 L168.66,134.47 L169.25,133.82 L169.85,133.17 L170.44,132.53 L171.03,131.88 L171.62,131.24 L172.21,130.60 L172.80,129.96 L173.38,129.33 L173.97,128.69 L174.55,128.06 L175.13,127.43 L175.72,126.80 L176.30,126.18 L176.87,125.56 L177.45,124.94 L178.03,124.32 L178.60,123.71 L179.18,123.10 L179.75,122.49 L180.32,121.88 L180.89,121.28 L181.46,120.68 L182.03,120.09 L182.60,119.49 L183.16,118.91 L183.73,118.32 L184.29,117.74 L184.85,117.16 L185.42,116.59 L185.98,116.02 L186.54,115.45 L187.09,114.89 L187.65,114.33 L188.21,113.78 L188.76,113.23 L189.31,112.69 L189.87,112.15 L190.42,111.62 L190.97,111.09 L191.52,110.57 L192.07,110.05 L192.62,109.54 L193.16,109.03 L193.71,108.53 L194.25,108.03 L194.79,107.55 L195.34,107.06 L195.88,106.59 L196.42,106.12 L196.96,105.65 L197.50,105.20 L198.03,104.75 L198.57,104.31 L199.10,103.87 L199.64,103.44 L200.17,103.02 L200.70,102.61 L201.23,102.20 L201.76,101.81 L202.29,101.42 L202.82,101.04 L203.35,100.67 L203.87,100.30 L204.40,99.95 L204.92,99.60 L205.44,99.27 L205.97,98.94 L206.49,98.62 L207.01,98.31 L207.52,98.01 L208.04,97.72 L208.56,97.45 L209.07,97.18 L209.59,96.92 L210.10,96.67 L210.61,96.44 L211.12,96.21 L211.63,96.00 L212.14,95.79 L212.65,95.60 L213.16,95.42 L213.66,95.25 L214.17,95.10 L214.67,94.95 L215.17,94.82 L215.67,94.70 L216.17,94.59 L216.67,94.50 L217.17,94.42 L217.66,94.35 L218.16,94.30 L218.65,94.26 L219.14,94.23 L219.63,94.22 L220.12,94.22 L220.61,94.23 L221.10,94.26 L221.58,94.30 L222.07,94.36 L222.55,94.44 L223.03,94.52 L223.52,94.63 L223.99,94.75 L224.47,94.88 L224.95,95.03 L225.42,95.20 L225.90,95.38 L226.37,95.58 L226.84,95.79 L227.31,96.02 L227.78,96.27 L228.24,96.54 L228.71,96.82 L229.17,97.12 L229.63,97.43 L230.09,97.76 L230.55,98.11 L231.01,98.48 L231.46,98.87 L231.92,99.27 L232.37,99.70 L232.82,100.14 L233.27,100.59 L233.72,101.07 L234.16,101.57 L234.46,101.91" fill="none" stroke="#000" stroke-width="1.90" stroke-linejoin="round" stroke-linecap="butt"/>
<path d="M202.58,143.42 L203.16,142.70 L203.74,141.98 L204.31,141.26 L204.89,140.54 L205.46,139.82 L206.04,139.11 L206.61,138.40 L207.18,137.69 L207.75,136.99 L208.31,136.28 L208.88,135.58 L209.45,134.88 L210.01,134.19 L210.57,133.49 L211.14,132.80 L211.70,132.11 L212.26,131.43 L212.81,130.74 L213.37,130.06 L213.93,129.39 L214.48,128.71 L215.03,128.04 L215.58,127.38 L216.14,126.71 L216.69,126.06 L217.23,125.40 L217.78,124.75 L218.33,124.10 L218.87,123.46 L219.42,122.82 L219.96,122.18 L220.50,121.55 L221.04,120.92 L221.58,120.30 L222.12,119.69 L222.65,119.07 L223.19,118.47 L223.72,117.86 L224.26,117.27 L224.79,116.67 L225.32,116.09 L225.85,115.51 L226.38,114.93 L226.90,114.36 L227.43,113.80 L227.96,113.24 L228.48,112.69 L229.00,112.14 L229.52,111.61 L230.04,111.07 L230.56,110.55 L231.08,110.03 L231.60,109.52 L232.11,109.01 L232.63,108.51 L233.14,108.02 L233.65,107.54 L234.16,107.06 L234.67,106.60 L235.18,106.13 L235.68,105.68 L236.19,105.24 L236.69,104.80 L237.20,104.37 L237.70,103.95 L238.20,103.54 L238.70,103.14 L239.20,102.75 L239.69,102.36 L240.19,101.99 L240.68,101.62 L241.17,101.27 L241.66,100.92 L242.15,100.58 L242.64,100.26 L243.13,99.94 L243.62,99.63 L244.10,99.34 L244.58,99.05 L245.06,98.77 L245.54,98.51 L246.02,98.25 L246.50,98.01 L246.98,97.78 L247.45,97.56 L247.92,97.35 L248.39,97.15 L248.86,96.96 L249.33,96.79 L249.80,96.62 L250.26,96.47 L250.73,96.33 L251.19,96.20 L251.65,96.09 L252.11,95.99 L252.57,95.90 L253.02,95.82 L253.48,95.76 L253.93,95.71 L254.38,95.67 L254.83,95.65 L255.28,95.64 L255.72,95.64 L256.17,95.66 L256.61,95.69 L257.05,95.73 L257.49,95.79 L257.92,95.86 L258.36,95.95 L258.79,96.05 L259.22,96.17 L259.65,96.30 L260.08,96.44 L260.50,96.60 L260.93,96.78 L261.35,96.97 L261.77,97.18 L262.19,97.40 L262.60,97.63 L263.02,97.89 L263.43,98.15 L263.84,98.44 L264.25,98.74 L264.65,99.05 L265.06,99.38 L265.46,99.73 L265.86,100.09 L266.26,100.47 L266.65,100.87 L267.04,101.28 L267.43,101.71 L267.82,102.16 L268.21,102.62 L268.59,103.10 L268.98,103.60 L269.36,104.11 L269.73,104.64 L270.11,105.19 L270.48,105.75 L270.85,106.34 L271.22,106.94 L271.59,107.55 L271.71,107.76" fill="none" stroke="#000" stroke-width="1.90" stroke-linejoin="round" stroke-linecap="butt"/>
<path d="M243.92,149.21 L244.47,148.43 L245.01,147.65 L245.56,146.87 L246.10,146.10 L246.64,145.33 L247.18,144.56 L247.72,143.79 L248.25,143.03 L248.79,142.27 L249.33,141.51 L249.86,140.76 L250.39,140.00 L250.92,139.26 L251.45,138.51 L251.98,137.77 L252.51,137.03 L253.04,136.30 L253.56,135.56 L254.09,134.84 L254.61,134.11 L255.13,133.39 L255.65,132.68 L256.17,131.97 L256.69,131.26 L257.20,130.56 L257.72,129.86 L258.23,129.16 L258.75,128.47 L259.26,127.79 L259.77,127.11 L260.28,126.44 L260.79,125.77 L261.29,125.10 L261.80,124.44 L262.30,123.79 L262.81,123.14 L263.31,122.50 L263.81,121.86 L264.31,121.23 L264.81,120.60 L265.30,119.98 L265.80,119.37 L266.29,118.76 L266.78,118.16 L267.27,117.57 L267.76,116.98 L268.25,116.40 L268.74,115.83 L269.23,115.26 L269.71,114.70 L270.19,114.15 L270.68,113.60 L271.16,113.06 L271.63,112.53 L272.11,112.01 L272.59,111.49 L273.06,110.99 L273.53,110.49 L274.01,109.99 L274.48,109.51 L274.95,109.04 L275.41,108.57 L275.88,108.11 L276.34,107.66 L276.80,107.22 L277.27,106.79 L277.72,106.37 L278.18,105.95 L278.64,105.55 L279.09,105.15 L279.55,104.77 L280.00,104.39 L280.45,104.02 L280.90,103.67 L281.34,103.32 L281.79,102.98 L282.23,102.66 L282.67,102.34 L283.11,102.04 L283.55,101.74 L283.99,101.46 L284.42,101.18 L284.85,100.92 L285.28,100.67 L285.71,100.42 L286.14,100.19 L286.57,99.97 L286.99,99.77 L287.41,99.57 L287.83,99.39 L288.25,99.21 L288.67,99.05 L289.08,98.90 L289.49,98.76 L289.90,98.64 L290.31,98.53 L290.72,98.43 L291.12,98.34 L291.53,98.26 L291.93,98.20 L292.32,98.15 L292.72,98.11 L293.11,98.09 L293.51,98.07 L293.90,98.08 L294.28,98.09 L294.67,98.12 L295.05,98.16 L295.44,98.21 L295.81,98.28 L296.19,98.36 L296.57,98.46 L296.94,98.57 L297.31,98.69 L297.68,98.83 L298.04,98.98 L298.41,99.15 L298.77,99.33 L299.13,99.52 L299.48,99.73 L299.84,99.95 L300.19,100.19 L300.54,100.44 L300.88,100.71 L301.23,100.99 L301.57,101.28 L301.91,101.59 L302.25,101.92 L302.58,102.26 L302.91,102.62 L303.24,102.99 L303.57,103.37 L303.89,103.78 L304.21,104.19 L304.53,104.62 L304.85,105.07 L305.16,105.53 L305.48,106.01 L305.78,106.51 L306.09,107.02 L306.39,107.54 L306.69,108.08 L306.99,108.64 L307.29,109.21 L307.58,109.80 L307.87,110.40 L308.16,111.02 L308.44,111.65 L308.72,112.31 L309.00,112.97 L309.28,113.65 L309.55,114.35 L309.55,114.35" fill="none" stroke="#000" stroke-width="1.90" stroke-linejoin="round" stroke-linecap="butt"/>
<path d="M286.49,156.61 L287.01,155.86 L287.52,155.11 L288.04,154.36 L288.56,153.62 L289.07,152.87 L289.58,152.13 L290.10,151.39 L290.61,150.65 L291.11,149.91 L291.62,149.18 L292.13,148.45 L292.63,147.72 L293.14,146.99 L293.64,146.26 L294.14,145.54 L294.64,144.82 L295.14,144.10 L295.64,143.38 L296.13,142.67 L296.63,141.96 L297.12,141.25 L297.62,140.55 L298.11,139.84 L298.60,139.14 L299.08,138.45 L299.57,137.75 L300.06,137.06 L300.54,136.37 L301.03,135.69 L301.51,135.01 L301.99,134.33 L302.47,133.66 L302.94,132.98 L303.42,132.32 L303.90,131.65 L304.37,130.99 L304.84,130.34 L305.31,129.68 L305.78,129.04 L306.25,128.39 L306.72,127.75 L307.19,127.12 L307.65,126.49 L308.11,125.86 L308.57,125.24 L309.03,124.62 L309.49,124.01 L309.95,123.40 L310.41,122.80 L310.86,122.20 L311.31,121.61 L311.76,121.02 L312.21,120.44 L312.66,119.87 L313.11,119.30 L313.55,118.73 L314.00,118.18 L314.44,117.62 L314.88,117.08 L315.32,116.54 L315.76,116.01 L316.19,115.48 L316.63,114.96 L317.06,114.45 L317.49,113.94 L317.92,113.45 L318.35,112.96 L318.77,112.47 L319.20,112.00 L319.62,111.53 L320.04,111.07 L320.46,110.62 L320.88,110.17 L321.29,109.73 L321.71,109.31 L322.12,108.89" fill="none" stroke="#000" stroke-width="1.05" stroke-linejoin="round"/>
<path d="M321.71,109.31 L322.12,108.89 L322.53,108.48 L322.94,108.08 L323.34,107.68 L323.75,107.30 L324.15,106.93 L324.55,106.56 L324.95,106.21 L325.34,105.86 L325.74,105.52 L326.13,105.20 L326.52,104.88 L326.91,104.58 L327.29,104.28 L327.68,104.00 L328.06,103.73 L328.44,103.46 L328.82,103.21 L329.19,102.97 L329.57,102.74 L329.94,102.53 L330.31,102.32 L330.67,102.13 L331.04,101.95 L331.40,101.78 L331.76,101.62 L332.11,101.47 L332.47,101.34 L332.82,101.22 L333.17,101.12 L333.52,101.02 L333.86,100.94 L334.20,100.88 L334.54,100.82 L334.88,100.78 L335.21,100.76 L335.54,100.75 L335.87,100.75 L336.20,100.77 L336.52,100.80 L336.84,100.84 L337.16,100.90 L337.47,100.98 L337.79,101.07 L338.09,101.18 L338.40,101.30 L338.70,101.43 L339.00,101.59 L339.30,101.75 L339.60,101.94 L339.89,102.14 L340.18,102.35 L340.46,102.59 L340.74,102.83 L341.02,103.10 L341.30,103.38 L341.57,103.68 L341.84,104.00 L342.11,104.33 L342.37,104.68 L342.63,105.05 L342.89,105.43 L343.14,105.83 L343.39,106.25 L343.64,106.69 L343.88,107.15 L344.12,107.62 L344.36,108.11 L344.59,108.62 L344.82,109.15 L345.04,109.69 L345.27,110.26 L345.49,110.84 L345.70,111.45 L345.91,112.07 L346.12,112.71 L346.32,113.36 L346.52,114.04 L346.72,114.74 L346.91,115.46 L347.10,116.19 L347.29,116.94 L347.47,117.72 L347.47,117.72" fill="none" stroke="#000" stroke-width="1.5" stroke-linejoin="round"/>
</g>
<circle cx="179.23" cy="49.11" r="0.77" fill="#000"/>
<circle cx="178.58" cy="52.29" r="0.75" fill="#000"/>
<circle cx="177.94" cy="55.32" r="0.74" fill="#000"/>
<circle cx="177.32" cy="58.21" r="0.72" fill="#000"/>
<circle cx="176.69" cy="60.97" r="0.71" fill="#000"/>
<circle cx="176.08" cy="63.58" r="0.70" fill="#000"/>
<circle cx="175.48" cy="66.07" r="0.69" fill="#000"/>
<circle cx="174.90" cy="68.44" r="0.68" fill="#000"/>
<circle cx="174.34" cy="70.69" r="0.67" fill="#000"/>
<circle cx="173.80" cy="72.81" r="0.66" fill="#000"/>
<circle cx="173.30" cy="74.83" r="0.65" fill="#000"/>
<circle cx="172.89" cy="76.74" r="0.64" fill="#000"/>
<circle cx="172.45" cy="78.55" r="0.63" fill="#000"/>
<circle cx="171.90" cy="80.27" r="0.62" fill="#000"/>
<circle cx="171.07" cy="81.89" r="0.61" fill="#000"/>
<circle cx="170.06" cy="83.41" r="0.60" fill="#000"/>
<circle cx="169.04" cy="84.86" r="0.60" fill="#000"/>
<circle cx="168.08" cy="86.22" r="0.59" fill="#000"/>
<circle cx="167.11" cy="87.51" r="0.59" fill="#000"/>
<circle cx="166.14" cy="88.72" r="0.58" fill="#000"/>
<circle cx="165.22" cy="89.87" r="0.58" fill="#000"/>
<circle cx="184.80" cy="14.70" r="0.94" fill="#f80404"/>
<circle cx="184.16" cy="19.23" r="0.91" fill="#f80404"/>
<circle cx="183.50" cy="23.60" r="0.89" fill="#f80404"/>
<circle cx="182.83" cy="27.80" r="0.87" fill="#f80404"/>
<circle cx="182.15" cy="31.85" r="0.85" fill="#f80404"/>
<circle cx="181.48" cy="35.74" r="0.83" fill="#f80404"/>
<circle cx="180.81" cy="39.47" r="0.82" fill="#f80404"/>
<circle cx="180.13" cy="43.05" r="0.80" fill="#f80404"/>
<circle cx="179.46" cy="46.48" r="0.78" fill="#f80404"/>
<circle cx="211.14" cy="57.65" r="0.90" fill="#000"/>
<circle cx="210.59" cy="60.61" r="0.88" fill="#000"/>
<circle cx="210.07" cy="63.44" r="0.87" fill="#000"/>
<circle cx="209.57" cy="66.15" r="0.85" fill="#000"/>
<circle cx="209.10" cy="68.74" r="0.84" fill="#000"/>
<circle cx="208.64" cy="71.22" r="0.82" fill="#000"/>
<circle cx="208.18" cy="73.59" r="0.81" fill="#000"/>
<circle cx="207.76" cy="75.85" r="0.80" fill="#000"/>
<circle cx="207.39" cy="78.01" r="0.79" fill="#000"/>
<circle cx="207.02" cy="80.06" r="0.78" fill="#000"/>
<circle cx="206.64" cy="82.02" r="0.76" fill="#000"/>
<circle cx="206.21" cy="83.88" r="0.75" fill="#000"/>
<circle cx="205.71" cy="85.65" r="0.74" fill="#000"/>
<circle cx="205.07" cy="87.34" r="0.73" fill="#000"/>
<circle cx="204.23" cy="88.94" r="0.73" fill="#000"/>
<circle cx="203.28" cy="90.47" r="0.72" fill="#000"/>
<circle cx="202.30" cy="91.91" r="0.71" fill="#000"/>
<circle cx="201.30" cy="93.28" r="0.70" fill="#000"/>
<circle cx="200.20" cy="94.59" r="0.69" fill="#000"/>
<circle cx="199.06" cy="95.82" r="0.69" fill="#000"/>
<circle cx="197.91" cy="97.00" r="0.68" fill="#000"/>
<circle cx="216.60" cy="22.00" r="1.10" fill="#f80404"/>
<circle cx="216.03" cy="26.23" r="1.08" fill="#f80404"/>
<circle cx="215.42" cy="30.33" r="1.06" fill="#f80404"/>
<circle cx="214.80" cy="34.29" r="1.04" fill="#f80404"/>
<circle cx="214.17" cy="38.12" r="1.01" fill="#f80404"/>
<circle cx="213.53" cy="41.81" r="0.99" fill="#f80404"/>
<circle cx="212.89" cy="45.36" r="0.97" fill="#f80404"/>
<circle cx="212.23" cy="48.78" r="0.95" fill="#f80404"/>
<circle cx="211.55" cy="52.08" r="0.94" fill="#f80404"/>
<circle cx="210.87" cy="55.24" r="0.92" fill="#f80404"/>
<circle cx="246.51" cy="62.52" r="0.91" fill="#000"/>
<circle cx="246.02" cy="65.54" r="0.89" fill="#000"/>
<circle cx="245.58" cy="68.43" r="0.87" fill="#000"/>
<circle cx="245.15" cy="71.20" r="0.86" fill="#000"/>
<circle cx="244.73" cy="73.83" r="0.84" fill="#000"/>
<circle cx="244.30" cy="76.35" r="0.83" fill="#000"/>
<circle cx="243.86" cy="78.75" r="0.81" fill="#000"/>
<circle cx="243.46" cy="81.03" r="0.80" fill="#000"/>
<circle cx="243.06" cy="83.20" r="0.79" fill="#000"/>
<circle cx="242.65" cy="85.27" r="0.78" fill="#000"/>
<circle cx="242.20" cy="87.23" r="0.76" fill="#000"/>
<circle cx="241.70" cy="89.10" r="0.75" fill="#000"/>
<circle cx="241.13" cy="90.87" r="0.74" fill="#000"/>
<circle cx="240.37" cy="92.54" r="0.73" fill="#000"/>
<circle cx="239.51" cy="94.13" r="0.72" fill="#000"/>
<circle cx="238.63" cy="95.64" r="0.72" fill="#000"/>
<circle cx="237.77" cy="97.07" r="0.71" fill="#000"/>
<circle cx="236.89" cy="98.42" r="0.70" fill="#000"/>
<circle cx="236.00" cy="99.70" r="0.69" fill="#000"/>
<circle cx="235.11" cy="100.91" r="0.68" fill="#000"/>
<circle cx="234.26" cy="102.05" r="0.68" fill="#000"/>
<circle cx="251.80" cy="30.20" r="1.10" fill="#f80404"/>
<circle cx="251.04" cy="34.43" r="1.08" fill="#f80404"/>
<circle cx="250.30" cy="38.52" r="1.06" fill="#f80404"/>
<circle cx="249.58" cy="42.46" r="1.03" fill="#f80404"/>
<circle cx="248.88" cy="46.26" r="1.01" fill="#f80404"/>
<circle cx="248.19" cy="49.92" r="0.99" fill="#f80404"/>
<circle cx="247.52" cy="53.44" r="0.97" fill="#f80404"/>
<circle cx="246.87" cy="56.82" r="0.95" fill="#f80404"/>
<circle cx="246.25" cy="60.06" r="0.93" fill="#f80404"/>
<circle cx="282.80" cy="70.55" r="0.90" fill="#000"/>
<circle cx="282.28" cy="73.53" r="0.89" fill="#000"/>
<circle cx="281.76" cy="76.38" r="0.87" fill="#000"/>
<circle cx="281.24" cy="79.10" r="0.85" fill="#000"/>
<circle cx="280.73" cy="81.69" r="0.84" fill="#000"/>
<circle cx="280.21" cy="84.15" r="0.82" fill="#000"/>
<circle cx="279.69" cy="86.49" r="0.81" fill="#000"/>
<circle cx="279.15" cy="88.72" r="0.79" fill="#000"/>
<circle cx="278.60" cy="90.84" r="0.78" fill="#000"/>
<circle cx="278.04" cy="92.84" r="0.77" fill="#000"/>
<circle cx="277.50" cy="94.75" r="0.76" fill="#000"/>
<circle cx="276.96" cy="96.55" r="0.75" fill="#000"/>
<circle cx="276.39" cy="98.26" r="0.74" fill="#000"/>
<circle cx="275.76" cy="99.87" r="0.73" fill="#000"/>
<circle cx="275.07" cy="101.40" r="0.72" fill="#000"/>
<circle cx="274.37" cy="102.85" r="0.71" fill="#000"/>
<circle cx="273.67" cy="104.22" r="0.70" fill="#000"/>
<circle cx="272.96" cy="105.51" r="0.69" fill="#000"/>
<circle cx="272.24" cy="106.72" r="0.69" fill="#000"/>
<circle cx="271.54" cy="107.87" r="0.68" fill="#000"/>
<circle cx="287.80" cy="38.40" r="1.10" fill="#f80404"/>
<circle cx="287.21" cy="42.63" r="1.08" fill="#f80404"/>
<circle cx="286.54" cy="46.71" r="1.05" fill="#f80404"/>
<circle cx="285.83" cy="50.64" r="1.03" fill="#f80404"/>
<circle cx="285.12" cy="54.42" r="1.01" fill="#f80404"/>
<circle cx="284.46" cy="58.06" r="0.98" fill="#f80404"/>
<circle cx="283.86" cy="61.55" r="0.96" fill="#f80404"/>
<circle cx="283.31" cy="64.90" r="0.94" fill="#f80404"/>
<circle cx="282.77" cy="68.11" r="0.92" fill="#f80404"/>
<circle cx="320.55" cy="72.77" r="0.91" fill="#000"/>
<circle cx="319.91" cy="76.13" r="0.89" fill="#000"/>
<circle cx="319.25" cy="79.32" r="0.88" fill="#000"/>
<circle cx="318.55" cy="82.35" r="0.86" fill="#000"/>
<circle cx="317.81" cy="85.23" r="0.84" fill="#000"/>
<circle cx="317.08" cy="87.95" r="0.83" fill="#000"/>
<circle cx="316.39" cy="90.52" r="0.81" fill="#000"/>
<circle cx="315.76" cy="92.96" r="0.80" fill="#000"/>
<circle cx="315.18" cy="95.26" r="0.78" fill="#000"/>
<circle cx="314.65" cy="97.43" r="0.77" fill="#000"/>
<circle cx="314.14" cy="99.48" r="0.76" fill="#000"/>
<circle cx="313.64" cy="101.41" r="0.75" fill="#000"/>
<circle cx="313.15" cy="103.22" r="0.74" fill="#000"/>
<circle cx="312.65" cy="104.93" r="0.73" fill="#000"/>
<circle cx="312.14" cy="106.54" r="0.72" fill="#000"/>
<circle cx="311.65" cy="108.05" r="0.71" fill="#000"/>
<circle cx="311.18" cy="109.47" r="0.70" fill="#000"/>
<circle cx="310.73" cy="110.80" r="0.69" fill="#000"/>
<circle cx="310.30" cy="112.05" r="0.69" fill="#000"/>
<circle cx="309.89" cy="113.22" r="0.68" fill="#000"/>
<circle cx="309.52" cy="114.32" r="0.68" fill="#000"/>
<circle cx="327.00" cy="40.70" r="1.10" fill="#f80404"/>
<circle cx="325.96" cy="45.42" r="1.08" fill="#f80404"/>
<circle cx="324.97" cy="49.96" r="1.05" fill="#f80404"/>
<circle cx="324.04" cy="54.32" r="1.03" fill="#f80404"/>
<circle cx="323.15" cy="58.50" r="1.00" fill="#f80404"/>
<circle cx="322.32" cy="62.49" r="0.98" fill="#f80404"/>
<circle cx="321.53" cy="66.31" r="0.95" fill="#f80404"/>
<circle cx="320.79" cy="69.96" r="0.93" fill="#f80404"/>
<circle cx="357.64" cy="80.47" r="0.72" fill="#000"/>
<circle cx="356.74" cy="83.86" r="0.71" fill="#000"/>
<circle cx="355.90" cy="87.07" r="0.69" fill="#000"/>
<circle cx="355.10" cy="90.11" r="0.68" fill="#000"/>
<circle cx="354.35" cy="92.97" r="0.66" fill="#000"/>
<circle cx="353.65" cy="95.67" r="0.65" fill="#000"/>
<circle cx="353.02" cy="98.21" r="0.64" fill="#000"/>
<circle cx="352.43" cy="100.61" r="0.63" fill="#000"/>
<circle cx="351.88" cy="102.85" r="0.62" fill="#000"/>
<circle cx="351.34" cy="104.96" r="0.61" fill="#000"/>
<circle cx="350.82" cy="106.94" r="0.60" fill="#000"/>
<circle cx="350.30" cy="108.79" r="0.59" fill="#000"/>
<circle cx="349.78" cy="110.53" r="0.58" fill="#000"/>
<circle cx="349.27" cy="112.16" r="0.57" fill="#000"/>
<circle cx="348.78" cy="113.68" r="0.57" fill="#000"/>
<circle cx="348.33" cy="115.10" r="0.56" fill="#000"/>
<circle cx="347.89" cy="116.43" r="0.55" fill="#000"/>
<circle cx="347.48" cy="117.66" r="0.55" fill="#000"/>
<circle cx="365.00" cy="47.40" r="0.88" fill="#f80404"/>
<circle cx="364.16" cy="52.32" r="0.86" fill="#f80404"/>
<circle cx="363.26" cy="57.03" r="0.84" fill="#f80404"/>
<circle cx="362.31" cy="61.54" r="0.82" fill="#f80404"/>
<circle cx="361.35" cy="65.85" r="0.80" fill="#f80404"/>
<circle cx="360.38" cy="69.95" r="0.78" fill="#f80404"/>
<circle cx="359.34" cy="73.86" r="0.76" fill="#f80404"/>
<circle cx="358.28" cy="77.58" r="0.74" fill="#f80404"/>
<circle cx="288.9" cy="33.6" r="0.5" fill="#f80404" opacity="0.6"/>
<circle cx="185.10" cy="13.50" r="0.94" fill="#000"/>
<circle cx="184.48" cy="18.10" r="0.91" fill="#000"/>
<circle cx="183.83" cy="22.54" r="0.89" fill="#000"/>
<circle cx="183.18" cy="26.81" r="0.87" fill="#000"/>
<circle cx="182.52" cy="30.93" r="0.85" fill="#000"/>
<circle cx="181.86" cy="34.88" r="0.83" fill="#000"/>
<circle cx="181.21" cy="38.67" r="0.82" fill="#000"/>
<circle cx="180.55" cy="42.31" r="0.80" fill="#000"/>
<circle cx="179.89" cy="45.79" r="0.78" fill="#000"/>
<circle cx="178.79" cy="49.75" r="0.77" fill="#f80404"/>
<circle cx="178.13" cy="52.88" r="0.75" fill="#f80404"/>
<circle cx="177.48" cy="55.86" r="0.74" fill="#f80404"/>
<circle cx="176.84" cy="58.71" r="0.72" fill="#f80404"/>
<circle cx="176.20" cy="61.42" r="0.71" fill="#f80404"/>
<circle cx="175.58" cy="63.99" r="0.70" fill="#f80404"/>
<circle cx="174.97" cy="66.44" r="0.69" fill="#f80404"/>
<circle cx="174.38" cy="68.77" r="0.68" fill="#f80404"/>
<circle cx="173.81" cy="70.98" r="0.67" fill="#f80404"/>
<circle cx="173.26" cy="73.08" r="0.66" fill="#f80404"/>
<circle cx="172.76" cy="75.06" r="0.65" fill="#f80404"/>
<circle cx="172.34" cy="76.95" r="0.64" fill="#f80404"/>
<circle cx="171.90" cy="78.73" r="0.63" fill="#f80404"/>
<circle cx="171.33" cy="80.41" r="0.62" fill="#f80404"/>
<circle cx="170.59" cy="82.01" r="0.61" fill="#f80404"/>
<circle cx="169.67" cy="83.51" r="0.60" fill="#f80404"/>
<circle cx="168.74" cy="84.93" r="0.60" fill="#f80404"/>
<circle cx="167.87" cy="86.27" r="0.59" fill="#f80404"/>
<circle cx="166.98" cy="87.54" r="0.59" fill="#f80404"/>
<circle cx="166.09" cy="88.74" r="0.58" fill="#f80404"/>
<circle cx="165.22" cy="89.87" r="0.58" fill="#f80404"/>
<circle cx="216.90" cy="20.80" r="1.10" fill="#000"/>
<circle cx="216.40" cy="25.10" r="1.08" fill="#000"/>
<circle cx="215.87" cy="29.26" r="1.06" fill="#000"/>
<circle cx="215.31" cy="33.29" r="1.04" fill="#000"/>
<circle cx="214.74" cy="37.17" r="1.01" fill="#000"/>
<circle cx="214.17" cy="40.92" r="0.99" fill="#000"/>
<circle cx="213.60" cy="44.53" r="0.97" fill="#000"/>
<circle cx="212.99" cy="48.01" r="0.95" fill="#000"/>
<circle cx="212.37" cy="51.36" r="0.94" fill="#000"/>
<circle cx="211.74" cy="54.57" r="0.92" fill="#000"/>
<circle cx="210.22" cy="58.27" r="0.90" fill="#f80404"/>
<circle cx="209.61" cy="61.18" r="0.88" fill="#f80404"/>
<circle cx="209.04" cy="63.97" r="0.87" fill="#f80404"/>
<circle cx="208.50" cy="66.64" r="0.85" fill="#f80404"/>
<circle cx="207.98" cy="69.19" r="0.84" fill="#f80404"/>
<circle cx="207.48" cy="71.63" r="0.82" fill="#f80404"/>
<circle cx="206.98" cy="73.96" r="0.81" fill="#f80404"/>
<circle cx="206.52" cy="76.19" r="0.80" fill="#f80404"/>
<circle cx="206.11" cy="78.31" r="0.79" fill="#f80404"/>
<circle cx="205.72" cy="80.33" r="0.78" fill="#f80404"/>
<circle cx="205.30" cy="82.26" r="0.76" fill="#f80404"/>
<circle cx="204.83" cy="84.09" r="0.75" fill="#f80404"/>
<circle cx="204.31" cy="85.83" r="0.74" fill="#f80404"/>
<circle cx="203.64" cy="87.49" r="0.73" fill="#f80404"/>
<circle cx="202.92" cy="89.07" r="0.73" fill="#f80404"/>
<circle cx="202.19" cy="90.57" r="0.72" fill="#f80404"/>
<circle cx="201.43" cy="91.99" r="0.71" fill="#f80404"/>
<circle cx="200.64" cy="93.35" r="0.70" fill="#f80404"/>
<circle cx="199.76" cy="94.63" r="0.69" fill="#f80404"/>
<circle cx="198.83" cy="95.85" r="0.69" fill="#f80404"/>
<circle cx="197.87" cy="97.00" r="0.68" fill="#f80404"/>
<circle cx="196.90" cy="98.11" r="0.68" fill="#f80404"/>
<circle cx="252.10" cy="29.00" r="1.10" fill="#000"/>
<circle cx="251.41" cy="33.30" r="1.08" fill="#000"/>
<circle cx="250.74" cy="37.46" r="1.06" fill="#000"/>
<circle cx="250.08" cy="41.47" r="1.03" fill="#000"/>
<circle cx="249.45" cy="45.33" r="1.01" fill="#000"/>
<circle cx="248.82" cy="49.05" r="0.99" fill="#000"/>
<circle cx="248.21" cy="52.63" r="0.97" fill="#000"/>
<circle cx="247.62" cy="56.06" r="0.95" fill="#000"/>
<circle cx="247.05" cy="59.36" r="0.93" fill="#000"/>
<circle cx="245.66" cy="63.16" r="0.91" fill="#f80404"/>
<circle cx="245.12" cy="66.14" r="0.89" fill="#f80404"/>
<circle cx="244.62" cy="68.98" r="0.87" fill="#f80404"/>
<circle cx="244.15" cy="71.70" r="0.86" fill="#f80404"/>
<circle cx="243.69" cy="74.29" r="0.84" fill="#f80404"/>
<circle cx="243.22" cy="76.77" r="0.83" fill="#f80404"/>
<circle cx="242.74" cy="79.13" r="0.81" fill="#f80404"/>
<circle cx="242.30" cy="81.37" r="0.80" fill="#f80404"/>
<circle cx="241.87" cy="83.51" r="0.79" fill="#f80404"/>
<circle cx="241.42" cy="85.54" r="0.78" fill="#f80404"/>
<circle cx="240.94" cy="87.47" r="0.76" fill="#f80404"/>
<circle cx="240.41" cy="89.30" r="0.75" fill="#f80404"/>
<circle cx="239.81" cy="91.04" r="0.74" fill="#f80404"/>
<circle cx="239.02" cy="92.69" r="0.73" fill="#f80404"/>
<circle cx="238.32" cy="94.26" r="0.72" fill="#f80404"/>
<circle cx="237.66" cy="95.74" r="0.72" fill="#f80404"/>
<circle cx="237.02" cy="97.15" r="0.71" fill="#f80404"/>
<circle cx="236.35" cy="98.48" r="0.70" fill="#f80404"/>
<circle cx="235.66" cy="99.73" r="0.69" fill="#f80404"/>
<circle cx="234.97" cy="100.92" r="0.68" fill="#f80404"/>
<circle cx="234.26" cy="102.05" r="0.68" fill="#f80404"/>
<circle cx="288.10" cy="37.20" r="1.10" fill="#000"/>
<circle cx="287.54" cy="41.50" r="1.08" fill="#000"/>
<circle cx="286.91" cy="45.65" r="1.05" fill="#000"/>
<circle cx="286.23" cy="49.65" r="1.03" fill="#000"/>
<circle cx="285.56" cy="53.50" r="1.01" fill="#000"/>
<circle cx="284.93" cy="57.20" r="0.98" fill="#000"/>
<circle cx="284.36" cy="60.76" r="0.96" fill="#000"/>
<circle cx="283.84" cy="64.16" r="0.94" fill="#000"/>
<circle cx="283.33" cy="67.43" r="0.92" fill="#000"/>
<circle cx="282.22" cy="71.18" r="0.90" fill="#f80404"/>
<circle cx="281.67" cy="74.11" r="0.89" fill="#f80404"/>
<circle cx="281.12" cy="76.91" r="0.87" fill="#f80404"/>
<circle cx="280.58" cy="79.58" r="0.85" fill="#f80404"/>
<circle cx="280.05" cy="82.13" r="0.84" fill="#f80404"/>
<circle cx="279.51" cy="84.55" r="0.82" fill="#f80404"/>
<circle cx="278.97" cy="86.85" r="0.81" fill="#f80404"/>
<circle cx="278.41" cy="89.04" r="0.79" fill="#f80404"/>
<circle cx="277.84" cy="91.12" r="0.78" fill="#f80404"/>
<circle cx="277.27" cy="93.09" r="0.77" fill="#f80404"/>
<circle cx="276.71" cy="94.97" r="0.76" fill="#f80404"/>
<circle cx="276.16" cy="96.74" r="0.75" fill="#f80404"/>
<circle cx="275.57" cy="98.42" r="0.74" fill="#f80404"/>
<circle cx="274.99" cy="100.01" r="0.73" fill="#f80404"/>
<circle cx="274.45" cy="101.51" r="0.72" fill="#f80404"/>
<circle cx="273.89" cy="102.93" r="0.71" fill="#f80404"/>
<circle cx="273.32" cy="104.27" r="0.70" fill="#f80404"/>
<circle cx="272.74" cy="105.54" r="0.69" fill="#f80404"/>
<circle cx="272.15" cy="106.74" r="0.69" fill="#f80404"/>
<circle cx="271.54" cy="107.87" r="0.68" fill="#f80404"/>
<circle cx="327.30" cy="39.50" r="1.10" fill="#000"/>
<circle cx="326.28" cy="44.30" r="1.08" fill="#000"/>
<circle cx="325.31" cy="48.92" r="1.05" fill="#000"/>
<circle cx="324.39" cy="53.35" r="1.03" fill="#000"/>
<circle cx="323.53" cy="57.59" r="1.00" fill="#000"/>
<circle cx="322.71" cy="61.65" r="0.98" fill="#000"/>
<circle cx="321.93" cy="65.54" r="0.95" fill="#000"/>
<circle cx="321.21" cy="69.24" r="0.93" fill="#000"/>
<circle cx="320.12" cy="73.43" r="0.91" fill="#f80404"/>
<circle cx="319.46" cy="76.73" r="0.89" fill="#f80404"/>
<circle cx="318.79" cy="79.87" r="0.88" fill="#f80404"/>
<circle cx="318.07" cy="82.85" r="0.86" fill="#f80404"/>
<circle cx="317.32" cy="85.68" r="0.84" fill="#f80404"/>
<circle cx="316.58" cy="88.36" r="0.83" fill="#f80404"/>
<circle cx="315.88" cy="90.89" r="0.81" fill="#f80404"/>
<circle cx="315.24" cy="93.29" r="0.80" fill="#f80404"/>
<circle cx="314.66" cy="95.55" r="0.78" fill="#f80404"/>
<circle cx="314.11" cy="97.69" r="0.77" fill="#f80404"/>
<circle cx="313.60" cy="99.70" r="0.76" fill="#f80404"/>
<circle cx="313.09" cy="101.60" r="0.75" fill="#f80404"/>
<circle cx="312.59" cy="103.39" r="0.74" fill="#f80404"/>
<circle cx="312.12" cy="105.07" r="0.73" fill="#f80404"/>
<circle cx="311.71" cy="106.65" r="0.72" fill="#f80404"/>
<circle cx="311.31" cy="108.13" r="0.71" fill="#f80404"/>
<circle cx="310.93" cy="109.53" r="0.70" fill="#f80404"/>
<circle cx="310.57" cy="110.84" r="0.69" fill="#f80404"/>
<circle cx="310.22" cy="112.07" r="0.69" fill="#f80404"/>
<circle cx="309.89" cy="113.22" r="0.68" fill="#f80404"/>
<circle cx="309.52" cy="114.32" r="0.68" fill="#f80404"/>
<circle cx="309.14" cy="115.42" r="0.68" fill="#f80404"/>
<circle cx="365.30" cy="46.20" r="0.88" fill="#000"/>
<circle cx="364.47" cy="51.20" r="0.86" fill="#000"/>
<circle cx="363.57" cy="55.99" r="0.84" fill="#000"/>
<circle cx="362.63" cy="60.58" r="0.82" fill="#000"/>
<circle cx="361.68" cy="64.96" r="0.80" fill="#000"/>
<circle cx="360.71" cy="69.13" r="0.78" fill="#000"/>
<circle cx="359.67" cy="73.11" r="0.76" fill="#000"/>
<circle cx="358.63" cy="76.88" r="0.74" fill="#000"/>
<circle cx="357.29" cy="81.10" r="0.72" fill="#f80404"/>
<circle cx="356.39" cy="84.44" r="0.71" fill="#f80404"/>
<circle cx="355.54" cy="87.60" r="0.69" fill="#f80404"/>
<circle cx="354.74" cy="90.58" r="0.68" fill="#f80404"/>
<circle cx="353.99" cy="93.40" r="0.66" fill="#f80404"/>
<circle cx="353.28" cy="96.05" r="0.65" fill="#f80404"/>
<circle cx="352.65" cy="98.55" r="0.64" fill="#f80404"/>
<circle cx="352.06" cy="100.90" r="0.63" fill="#f80404"/>
<circle cx="351.50" cy="103.11" r="0.62" fill="#f80404"/>
<circle cx="350.96" cy="105.19" r="0.61" fill="#f80404"/>
<circle cx="350.44" cy="107.13" r="0.60" fill="#f80404"/>
<circle cx="349.91" cy="108.96" r="0.59" fill="#f80404"/>
<circle cx="349.42" cy="110.66" r="0.58" fill="#f80404"/>
<circle cx="348.98" cy="112.26" r="0.57" fill="#f80404"/>
<circle cx="348.57" cy="113.76" r="0.57" fill="#f80404"/>
<circle cx="348.17" cy="115.15" r="0.56" fill="#f80404"/>
<circle cx="347.80" cy="116.46" r="0.55" fill="#f80404"/>
<circle cx="347.44" cy="117.68" r="0.55" fill="#f80404"/>
<circle cx="182.60" cy="16.69" r="0.91" fill="#ff8000"/>
<circle cx="181.88" cy="21.22" r="0.89" fill="#ff8000"/>
<circle cx="181.15" cy="25.58" r="0.87" fill="#ff8000"/>
<circle cx="180.42" cy="29.77" r="0.85" fill="#ff8000"/>
<circle cx="179.70" cy="33.80" r="0.83" fill="#ff8000"/>
<circle cx="178.98" cy="37.67" r="0.82" fill="#ff8000"/>
<circle cx="178.26" cy="41.37" r="0.80" fill="#ff8000"/>
<circle cx="177.53" cy="44.92" r="0.78" fill="#ff8000"/>
<circle cx="176.82" cy="48.31" r="0.77" fill="#ff8000"/>
<circle cx="176.12" cy="51.56" r="0.75" fill="#ff8000"/>
<circle cx="175.43" cy="54.65" r="0.74" fill="#ff8000"/>
<circle cx="174.75" cy="57.60" r="0.72" fill="#ff8000"/>
<circle cx="174.08" cy="60.40" r="0.71" fill="#ff8000"/>
<circle cx="173.42" cy="63.07" r="0.70" fill="#ff8000"/>
<circle cx="172.78" cy="65.61" r="0.69" fill="#ff8000"/>
<circle cx="172.16" cy="68.02" r="0.68" fill="#ff8000"/>
<circle cx="171.56" cy="70.31" r="0.67" fill="#ff8000"/>
<circle cx="170.98" cy="72.49" r="0.66" fill="#ff8000"/>
<circle cx="170.45" cy="74.54" r="0.65" fill="#ff8000"/>
<circle cx="170.01" cy="76.49" r="0.64" fill="#ff8000"/>
<circle cx="169.54" cy="78.34" r="0.63" fill="#ff8000"/>
<circle cx="168.96" cy="80.08" r="0.62" fill="#ff8000"/>
<circle cx="168.59" cy="81.73" r="0.61" fill="#ff8000"/>
<circle cx="168.06" cy="83.29" r="0.60" fill="#ff8000"/>
<circle cx="167.50" cy="84.77" r="0.60" fill="#ff8000"/>
<circle cx="166.98" cy="86.16" r="0.59" fill="#ff8000"/>
<circle cx="166.44" cy="87.47" r="0.59" fill="#ff8000"/>
<circle cx="165.88" cy="88.71" r="0.58" fill="#ff8000"/>
<circle cx="165.22" cy="89.87" r="0.58" fill="#ff8000"/>
<circle cx="164.37" cy="90.97" r="0.58" fill="#ff8000"/>
<circle cx="163.53" cy="92.07" r="0.58" fill="#ff8000"/>
<circle cx="214.70" cy="23.68" r="1.08" fill="#ff8000"/>
<circle cx="214.08" cy="27.93" r="1.06" fill="#ff8000"/>
<circle cx="213.43" cy="32.03" r="1.04" fill="#ff8000"/>
<circle cx="212.78" cy="35.99" r="1.01" fill="#ff8000"/>
<circle cx="212.12" cy="39.82" r="0.99" fill="#ff8000"/>
<circle cx="211.47" cy="43.50" r="0.97" fill="#ff8000"/>
<circle cx="210.79" cy="47.05" r="0.95" fill="#ff8000"/>
<circle cx="210.09" cy="50.46" r="0.94" fill="#ff8000"/>
<circle cx="209.39" cy="53.73" r="0.92" fill="#ff8000"/>
<circle cx="208.72" cy="56.87" r="0.90" fill="#ff8000"/>
<circle cx="208.10" cy="59.89" r="0.88" fill="#ff8000"/>
<circle cx="207.52" cy="62.78" r="0.87" fill="#ff8000"/>
<circle cx="206.96" cy="65.54" r="0.85" fill="#ff8000"/>
<circle cx="206.43" cy="68.19" r="0.84" fill="#ff8000"/>
<circle cx="205.91" cy="70.71" r="0.82" fill="#ff8000"/>
<circle cx="205.41" cy="73.13" r="0.81" fill="#ff8000"/>
<circle cx="204.93" cy="75.43" r="0.80" fill="#ff8000"/>
<circle cx="204.51" cy="77.63" r="0.79" fill="#ff8000"/>
<circle cx="204.11" cy="79.72" r="0.78" fill="#ff8000"/>
<circle cx="203.68" cy="81.72" r="0.76" fill="#ff8000"/>
<circle cx="203.20" cy="83.62" r="0.75" fill="#ff8000"/>
<circle cx="202.67" cy="85.43" r="0.74" fill="#ff8000"/>
<circle cx="201.99" cy="87.15" r="0.73" fill="#ff8000"/>
<circle cx="201.43" cy="88.78" r="0.73" fill="#ff8000"/>
<circle cx="200.97" cy="90.33" r="0.72" fill="#ff8000"/>
<circle cx="200.46" cy="91.81" r="0.71" fill="#ff8000"/>
<circle cx="199.92" cy="93.21" r="0.70" fill="#ff8000"/>
<circle cx="199.28" cy="94.54" r="0.69" fill="#ff8000"/>
<circle cx="198.57" cy="95.80" r="0.69" fill="#ff8000"/>
<circle cx="197.83" cy="96.99" r="0.68" fill="#ff8000"/>
<circle cx="196.90" cy="98.11" r="0.68" fill="#ff8000"/>
<circle cx="249.81" cy="32.36" r="1.08" fill="#ff8000"/>
<circle cx="249.04" cy="36.57" r="1.06" fill="#ff8000"/>
<circle cx="248.29" cy="40.64" r="1.03" fill="#ff8000"/>
<circle cx="247.56" cy="44.55" r="1.01" fill="#ff8000"/>
<circle cx="246.85" cy="48.33" r="0.99" fill="#ff8000"/>
<circle cx="246.16" cy="51.95" r="0.97" fill="#ff8000"/>
<circle cx="245.48" cy="55.44" r="0.95" fill="#ff8000"/>
<circle cx="244.84" cy="58.78" r="0.93" fill="#ff8000"/>
<circle cx="244.23" cy="61.98" r="0.91" fill="#ff8000"/>
<circle cx="243.67" cy="65.04" r="0.89" fill="#ff8000"/>
<circle cx="243.15" cy="67.97" r="0.87" fill="#ff8000"/>
<circle cx="242.66" cy="70.78" r="0.86" fill="#ff8000"/>
<circle cx="242.18" cy="73.45" r="0.84" fill="#ff8000"/>
<circle cx="241.69" cy="76.00" r="0.83" fill="#ff8000"/>
<circle cx="241.20" cy="78.43" r="0.81" fill="#ff8000"/>
<circle cx="240.74" cy="80.75" r="0.80" fill="#ff8000"/>
<circle cx="240.29" cy="82.95" r="0.79" fill="#ff8000"/>
<circle cx="239.83" cy="85.04" r="0.78" fill="#ff8000"/>
<circle cx="239.34" cy="87.03" r="0.76" fill="#ff8000"/>
<circle cx="238.80" cy="88.92" r="0.75" fill="#ff8000"/>
<circle cx="238.18" cy="90.72" r="0.74" fill="#ff8000"/>
<circle cx="237.39" cy="92.42" r="0.73" fill="#ff8000"/>
<circle cx="236.89" cy="94.03" r="0.72" fill="#ff8000"/>
<circle cx="236.51" cy="95.56" r="0.72" fill="#ff8000"/>
<circle cx="236.13" cy="97.01" r="0.71" fill="#ff8000"/>
<circle cx="235.72" cy="98.38" r="0.70" fill="#ff8000"/>
<circle cx="235.28" cy="99.67" r="0.69" fill="#ff8000"/>
<circle cx="234.82" cy="100.90" r="0.68" fill="#ff8000"/>
<circle cx="234.26" cy="102.05" r="0.68" fill="#ff8000"/>
<circle cx="233.50" cy="103.15" r="0.68" fill="#ff8000"/>
<circle cx="232.74" cy="104.25" r="0.68" fill="#ff8000"/>
<circle cx="231.98" cy="105.35" r="0.68" fill="#ff8000"/>
<circle cx="231.22" cy="106.45" r="0.68" fill="#ff8000"/>
<circle cx="286.90" cy="37.20" r="1.10" fill="#ff8000"/>
<circle cx="286.24" cy="41.50" r="1.08" fill="#ff8000"/>
<circle cx="285.52" cy="45.65" r="1.05" fill="#ff8000"/>
<circle cx="284.75" cy="49.65" r="1.03" fill="#ff8000"/>
<circle cx="283.99" cy="53.50" r="1.01" fill="#ff8000"/>
<circle cx="283.28" cy="57.20" r="0.98" fill="#ff8000"/>
<circle cx="282.63" cy="60.76" r="0.96" fill="#ff8000"/>
<circle cx="282.03" cy="64.16" r="0.94" fill="#ff8000"/>
<circle cx="281.44" cy="67.43" r="0.92" fill="#ff8000"/>
<circle cx="280.85" cy="70.55" r="0.90" fill="#ff8000"/>
<circle cx="280.25" cy="73.53" r="0.89" fill="#ff8000"/>
<circle cx="279.67" cy="76.38" r="0.87" fill="#ff8000"/>
<circle cx="279.09" cy="79.10" r="0.85" fill="#ff8000"/>
<circle cx="278.51" cy="81.69" r="0.84" fill="#ff8000"/>
<circle cx="277.94" cy="84.15" r="0.82" fill="#ff8000"/>
<circle cx="277.37" cy="86.49" r="0.81" fill="#ff8000"/>
<circle cx="276.78" cy="88.72" r="0.79" fill="#ff8000"/>
<circle cx="276.18" cy="90.84" r="0.78" fill="#ff8000"/>
<circle cx="275.58" cy="92.84" r="0.77" fill="#ff8000"/>
<circle cx="275.00" cy="94.75" r="0.76" fill="#ff8000"/>
<circle cx="274.41" cy="96.55" r="0.75" fill="#ff8000"/>
<circle cx="273.80" cy="98.26" r="0.74" fill="#ff8000"/>
<circle cx="273.25" cy="99.87" r="0.73" fill="#ff8000"/>
<circle cx="272.80" cy="101.40" r="0.72" fill="#ff8000"/>
<circle cx="272.34" cy="102.85" r="0.71" fill="#ff8000"/>
<circle cx="271.86" cy="104.22" r="0.70" fill="#ff8000"/>
<circle cx="271.37" cy="105.51" r="0.69" fill="#ff8000"/>
<circle cx="270.88" cy="106.72" r="0.69" fill="#ff8000"/>
<circle cx="270.34" cy="107.87" r="0.68" fill="#ff8000"/>
<circle cx="269.72" cy="108.97" r="0.68" fill="#ff8000"/>
<circle cx="269.10" cy="110.07" r="0.68" fill="#ff8000"/>
<circle cx="268.48" cy="111.17" r="0.68" fill="#ff8000"/>
<circle cx="326.30" cy="40.30" r="1.10" fill="#ff8000"/>
<circle cx="325.17" cy="45.05" r="1.08" fill="#ff8000"/>
<circle cx="324.11" cy="49.61" r="1.05" fill="#ff8000"/>
<circle cx="323.09" cy="54.00" r="1.03" fill="#ff8000"/>
<circle cx="322.13" cy="58.20" r="1.00" fill="#ff8000"/>
<circle cx="321.23" cy="62.21" r="0.98" fill="#ff8000"/>
<circle cx="320.37" cy="66.05" r="0.95" fill="#ff8000"/>
<circle cx="319.57" cy="69.72" r="0.93" fill="#ff8000"/>
<circle cx="318.83" cy="73.21" r="0.91" fill="#ff8000"/>
<circle cx="318.12" cy="76.53" r="0.89" fill="#ff8000"/>
<circle cx="317.39" cy="79.69" r="0.88" fill="#ff8000"/>
<circle cx="316.61" cy="82.69" r="0.86" fill="#ff8000"/>
<circle cx="315.81" cy="85.53" r="0.84" fill="#ff8000"/>
<circle cx="315.02" cy="88.22" r="0.83" fill="#ff8000"/>
<circle cx="314.28" cy="90.77" r="0.81" fill="#ff8000"/>
<circle cx="313.59" cy="93.18" r="0.80" fill="#ff8000"/>
<circle cx="312.97" cy="95.45" r="0.78" fill="#ff8000"/>
<circle cx="312.39" cy="97.60" r="0.77" fill="#ff8000"/>
<circle cx="311.84" cy="99.63" r="0.76" fill="#ff8000"/>
<circle cx="311.30" cy="101.54" r="0.75" fill="#ff8000"/>
<circle cx="310.77" cy="103.33" r="0.74" fill="#ff8000"/>
<circle cx="310.31" cy="105.02" r="0.73" fill="#ff8000"/>
<circle cx="310.00" cy="106.61" r="0.72" fill="#ff8000"/>
<circle cx="309.70" cy="108.11" r="0.71" fill="#ff8000"/>
<circle cx="309.42" cy="109.51" r="0.70" fill="#ff8000"/>
<circle cx="309.16" cy="110.83" r="0.69" fill="#ff8000"/>
<circle cx="308.92" cy="112.06" r="0.69" fill="#ff8000"/>
<circle cx="308.69" cy="113.22" r="0.68" fill="#ff8000"/>
<circle cx="308.32" cy="114.32" r="0.68" fill="#ff8000"/>
<circle cx="307.94" cy="115.42" r="0.68" fill="#ff8000"/>
<circle cx="307.57" cy="116.52" r="0.68" fill="#ff8000"/>
<circle cx="307.19" cy="117.62" r="0.68" fill="#ff8000"/>
<circle cx="364.50" cy="47.20" r="0.88" fill="#ff8000"/>
<circle cx="363.60" cy="52.13" r="0.86" fill="#ff8000"/>
<circle cx="362.63" cy="56.86" r="0.84" fill="#ff8000"/>
<circle cx="361.63" cy="61.38" r="0.82" fill="#ff8000"/>
<circle cx="360.62" cy="65.70" r="0.80" fill="#ff8000"/>
<circle cx="359.59" cy="69.82" r="0.78" fill="#ff8000"/>
<circle cx="358.50" cy="73.74" r="0.76" fill="#ff8000"/>
<circle cx="357.40" cy="77.46" r="0.74" fill="#ff8000"/>
<circle cx="356.37" cy="80.99" r="0.72" fill="#ff8000"/>
<circle cx="355.42" cy="84.34" r="0.71" fill="#ff8000"/>
<circle cx="354.53" cy="87.51" r="0.69" fill="#ff8000"/>
<circle cx="353.69" cy="90.50" r="0.68" fill="#ff8000"/>
<circle cx="352.90" cy="93.33" r="0.66" fill="#ff8000"/>
<circle cx="352.17" cy="95.99" r="0.65" fill="#ff8000"/>
<circle cx="351.50" cy="98.49" r="0.64" fill="#ff8000"/>
<circle cx="350.88" cy="100.85" r="0.63" fill="#ff8000"/>
<circle cx="350.29" cy="103.07" r="0.62" fill="#ff8000"/>
<circle cx="349.73" cy="105.15" r="0.61" fill="#ff8000"/>
<circle cx="349.18" cy="107.10" r="0.60" fill="#ff8000"/>
<circle cx="348.63" cy="108.93" r="0.59" fill="#ff8000"/>
<circle cx="348.13" cy="110.64" r="0.58" fill="#ff8000"/>
<circle cx="347.69" cy="112.24" r="0.57" fill="#ff8000"/>
<circle cx="347.29" cy="113.74" r="0.57" fill="#ff8000"/>
<circle cx="346.91" cy="115.15" r="0.56" fill="#ff8000"/>
<circle cx="346.56" cy="116.45" r="0.55" fill="#ff8000"/>
<circle cx="346.22" cy="117.68" r="0.55" fill="#ff8000"/>
<circle cx="345.90" cy="118.82" r="0.54" fill="#ff8000"/>
<circle cx="345.54" cy="119.92" r="0.54" fill="#ff8000"/>
<circle cx="345.18" cy="121.02" r="0.54" fill="#ff8000"/>
<text transform="translate(76.50,92.90) scale(0.970,1)" text-anchor="middle" font-size="18.4" >1.0</text>
<text transform="translate(78.30,111.00) scale(0.970,1)" text-anchor="middle" font-size="18.4" >0.8</text>
<text transform="translate(82.20,129.20) scale(0.970,1)" text-anchor="middle" font-size="18.4" >0.6</text>
<text transform="translate(84.90,146.00) scale(0.970,1)" text-anchor="middle" font-size="18.4" >0.4</text>
<text transform="translate(87.30,169.20) scale(0.970,1)" text-anchor="middle" font-size="18.4" >0.0</text>
<text transform="translate(173.50,204.00) scale(0.970,1)" text-anchor="middle" font-size="18.4" >0.5</text>
<text transform="translate(272.40,242.00) scale(0.970,1)" text-anchor="middle" font-size="18.4" >1.0</text>
<text transform="translate(296.50,233.90) scale(0.970,1)" text-anchor="middle" font-size="18.4" >0.0</text>
<text transform="translate(326.00,188.40) scale(0.970,1)" text-anchor="middle" font-size="18.4" >0.5</text>
<text transform="translate(352.20,148.90) scale(0.970,1)" text-anchor="middle" font-size="18.4" >1.0</text>
<text transform="translate(374.60,114.20) scale(0.970,1)" text-anchor="middle" font-size="18.4" >1.5</text>
<text x="0.80" y="110.30" font-size="17.4" font-style="italic">m</text>
<text x="13.70" y="112.60" font-size="13.5" font-style="italic">α</text>
<text x="23.00" y="110.30" font-size="17.4" >[GeV]</text>
<text x="108.20" y="224.80" font-size="17.4" font-style="italic">ω</text>
<text x="120.20" y="224.80" font-size="17.6" >[GeV</text>
<text x="159.90" y="218.20" font-size="12.5" >2</text>
<text x="166.70" y="224.80" font-size="17.4" >]</text>
<text x="342.00" y="174.60" font-size="18.2" >1/L[fm</text>
<text x="394.20" y="165.40" font-size="12.5" >−1</text>
<text x="407.90" y="174.60" font-size="18.2" >]</text>
</svg></body></html>
